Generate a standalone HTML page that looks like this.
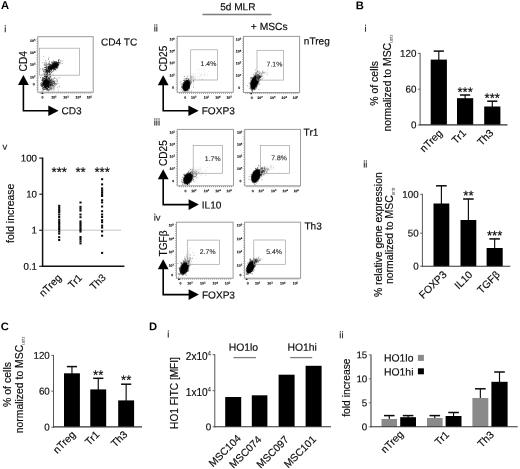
<!DOCTYPE html>
<html><head><meta charset="utf-8"><title>Figure</title>
<style>
html,body{margin:0;padding:0;background:#fff;}
svg{display:block;will-change:transform;font-family:"Liberation Sans",sans-serif;}
</style></head><body>
<svg width="520" height="469" viewBox="0 0 520 469">
<defs><filter id="bl" x="-30%" y="-30%" width="160%" height="160%"><feGaussianBlur stdDeviation="0.45"/></filter></defs>
<rect width="520" height="469" fill="#fff"/>
<text x="1.00" y="9.10" transform="rotate(0.03 1.00 9.10)" font-size="11.2" text-anchor="start" font-weight="bold" fill="#000">A</text>
<text x="355.80" y="9.20" transform="rotate(0.03 355.80 9.20)" font-size="11.2" text-anchor="start" font-weight="bold" fill="#000">B</text>
<text x="0.70" y="330.20" transform="rotate(0.03 0.70 330.20)" font-size="11.2" text-anchor="start" font-weight="bold" fill="#000">C</text>
<text x="149.00" y="330.20" transform="rotate(0.03 149.00 330.20)" font-size="11.2" text-anchor="start" font-weight="bold" fill="#000">D</text>
<text x="4.30" y="32.20" transform="rotate(0.03 4.30 32.20)" font-size="9.5" text-anchor="start" fill="#222" stroke="#222" stroke-width="0.16">i</text>
<text x="153.70" y="31.50" transform="rotate(0.03 153.70 31.50)" font-size="9.5" text-anchor="start" fill="#222" stroke="#222" stroke-width="0.16">ii</text>
<text x="153.70" y="125.50" transform="rotate(0.03 153.70 125.50)" font-size="9.5" text-anchor="start" fill="#222" stroke="#222" stroke-width="0.16">iii</text>
<text x="153.70" y="220.70" transform="rotate(0.03 153.70 220.70)" font-size="9.5" text-anchor="start" fill="#222" stroke="#222" stroke-width="0.16">iv</text>
<text x="2.50" y="149.80" transform="rotate(0.03 2.50 149.80)" font-size="9.5" text-anchor="start" fill="#222" stroke="#222" stroke-width="0.16">v</text>
<text x="364.50" y="31.80" transform="rotate(0.03 364.50 31.80)" font-size="9.5" text-anchor="start" fill="#222" stroke="#222" stroke-width="0.16">i</text>
<text x="363.20" y="167.60" transform="rotate(0.03 363.20 167.60)" font-size="9.5" text-anchor="start" fill="#222" stroke="#222" stroke-width="0.16">ii</text>
<text x="167.20" y="337.40" transform="rotate(0.03 167.20 337.40)" font-size="9.5" text-anchor="start" fill="#222" stroke="#222" stroke-width="0.16">i</text>
<text x="339.30" y="338.20" transform="rotate(0.03 339.30 338.20)" font-size="9.5" text-anchor="start" fill="#222" stroke="#222" stroke-width="0.16">ii</text>
<path d="M44.9 82.1h0.9M45.0 84.5h0.9M43.6 84.2h0.9M47.5 82.3h0.9M47.4 82.9h0.9M46.2 83.0h0.9M42.2 81.0h0.9M46.4 82.1h0.9M42.2 88.8h0.9M43.7 85.0h0.9M46.0 83.7h0.9M46.4 85.5h0.9M46.0 82.4h0.9M44.1 78.4h0.9M46.5 80.0h0.9M44.2 85.8h0.9M44.7 83.9h0.9M46.6 82.9h0.9M44.6 86.5h0.9M44.4 79.9h0.9M43.9 82.9h0.9M46.2 88.1h0.9M45.5 79.7h0.9M41.6 84.6h0.9M45.2 86.1h0.9M46.3 83.8h0.9M42.6 81.1h0.9M46.7 80.8h0.9M48.1 82.5h0.9M45.6 87.5h0.9M46.6 85.4h0.9M44.5 87.4h0.9M43.6 85.2h0.9M47.8 89.7h0.9M42.6 82.9h0.9M48.1 81.9h0.9M41.8 91.2h0.9M46.1 85.8h0.9M43.3 80.7h0.9M47.5 83.1h0.9M45.9 82.3h0.9M48.4 81.7h0.9M46.4 82.0h0.9M42.4 79.8h0.9M47.2 82.0h0.9M41.6 85.5h0.9M47.0 89.0h0.9M45.1 80.5h0.9M42.9 78.8h0.9M46.4 84.1h0.9M46.0 81.7h0.9M45.6 80.2h0.9M44.1 84.8h0.9M47.4 83.5h0.9M43.7 80.8h0.9M48.2 84.9h0.9M42.8 84.0h0.9M45.1 84.5h0.9M48.1 86.7h0.9M47.8 87.4h0.9M43.9 81.7h0.9M47.5 81.0h0.9M46.1 83.2h0.9M45.7 81.9h0.9M45.1 82.8h0.9M46.5 83.6h0.9M46.9 81.9h0.9M49.2 82.6h0.9M44.6 84.7h0.9M45.4 80.8h0.9M44.8 82.4h0.9M43.3 82.9h0.9M46.2 82.9h0.9M44.6 81.6h0.9M45.9 85.2h0.9M50.0 82.5h0.9M44.3 83.9h0.9M45.0 83.8h0.9M40.2 85.1h0.9M47.3 87.1h0.9M45.3 80.7h0.9M47.0 79.1h0.9M42.2 84.7h0.9M44.8 81.7h0.9M47.5 87.9h0.9M46.7 88.1h0.9M45.7 80.0h0.9M45.1 83.0h0.9M46.9 83.2h0.9M45.2 79.0h0.9M47.4 84.5h0.9M50.6 87.0h0.9M47.1 84.4h0.9M45.7 81.5h0.9M45.8 81.7h0.9M42.5 88.1h0.9M46.6 86.5h0.9M43.4 88.0h0.9M47.8 81.4h0.9M48.2 86.4h0.9M45.4 87.0h0.9M46.9 78.8h0.9M43.7 78.9h0.9M47.3 84.1h0.9M41.7 79.4h0.9M45.2 85.4h0.9M46.2 82.4h0.9M48.2 86.7h0.9M47.6 79.1h0.9M48.2 84.1h0.9M44.0 80.5h0.9M45.6 83.2h0.9M48.1 84.4h0.9M41.0 84.8h0.9M41.9 81.1h0.9M46.0 85.4h0.9M45.4 81.1h0.9M45.5 79.6h0.9M45.3 80.5h0.9M48.2 78.8h0.9M44.1 81.0h0.9M41.8 86.9h0.9M41.7 80.4h0.9M43.1 83.6h0.9M45.0 83.7h0.9M44.3 82.9h0.9M48.8 83.5h0.9M46.4 80.6h0.9M45.0 87.4h0.9M44.3 80.4h0.9M42.3 85.4h0.9M47.3 81.2h0.9M45.4 81.2h0.9M45.7 87.1h0.9M42.4 85.5h0.9M47.2 85.3h0.9M43.7 85.9h0.9M42.5 84.0h0.9M43.2 82.5h0.9M40.9 82.6h0.9M44.2 89.4h0.9M46.8 84.4h0.9M41.2 86.2h0.9M46.0 85.0h0.9M46.9 81.4h0.9M46.7 82.6h0.9M47.9 81.6h0.9M46.3 89.9h0.9M47.1 79.7h0.9M44.8 85.0h0.9M49.1 88.9h0.9M46.3 76.3h0.9M43.6 81.5h0.9M49.0 84.0h0.9M46.5 80.9h0.9M43.7 83.9h0.9M46.0 81.1h0.9M45.3 84.2h0.9M43.5 84.7h0.9M47.1 83.3h0.9M43.8 86.1h0.9M50.5 80.2h0.9M46.6 82.2h0.9M48.6 82.3h0.9M45.3 82.0h0.9M41.7 80.5h0.9M46.0 85.7h0.9M47.9 78.2h0.9M42.7 85.6h0.9M46.0 83.0h0.9M44.6 86.5h0.9M49.4 80.5h0.9M43.1 87.6h0.9M48.6 80.6h0.9M48.9 81.2h0.9M43.7 82.8h0.9M41.3 85.8h0.9M45.3 82.0h0.9M44.0 84.0h0.9M46.3 82.5h0.9M46.6 83.0h0.9M44.8 81.2h0.9M45.5 86.1h0.9M44.2 83.6h0.9M45.2 83.1h0.9M45.4 83.1h0.9M45.1 87.4h0.9M46.2 80.4h0.9M46.2 84.2h0.9M46.2 86.5h0.9M41.8 83.4h0.9M43.6 81.4h0.9M43.4 78.9h0.9M44.7 87.7h0.9M43.9 82.0h0.9M46.3 83.1h0.9M48.2 81.5h0.9M45.4 81.8h0.9M48.5 80.7h0.9M47.3 86.8h0.9M45.1 81.4h0.9M44.8 80.4h0.9M46.5 80.9h0.9M45.0 76.0h0.9M47.8 84.2h0.9M45.6 75.8h0.9M44.7 81.0h0.9M47.3 83.6h0.9M43.2 83.0h0.9M46.1 80.2h0.9M46.9 83.5h0.9M47.0 82.0h0.9M45.8 83.4h0.9M44.9 81.5h0.9M43.4 85.5h0.9M45.4 88.0h0.9M44.6 89.6h0.9M44.1 81.9h0.9M46.5 83.8h0.9M45.0 87.9h0.9M48.9 82.1h0.9M47.5 86.2h0.9M45.0 89.1h0.9M46.9 80.8h0.9M41.8 83.8h0.9M46.6 88.9h0.9M41.9 86.8h0.9M44.2 87.8h0.9M45.5 82.9h0.9M46.6 81.5h0.9M48.3 80.1h0.9M42.9 85.1h0.9M43.4 86.8h0.9M45.2 83.6h0.9M46.3 88.4h0.9M43.0 83.7h0.9M45.0 84.5h0.9M45.3 85.9h0.9M46.7 82.5h0.9M45.2 85.6h0.9M43.5 83.5h0.9M42.5 83.0h0.9M45.7 87.7h0.9M44.9 84.5h0.9M46.3 81.8h0.9M45.3 86.2h0.9M45.1 83.8h0.9M46.8 82.7h0.9M44.0 87.7h0.9M44.7 85.8h0.9M43.3 83.9h0.9M44.5 83.3h0.9M46.4 84.8h0.9M49.8 84.6h0.9M47.5 83.2h0.9M47.5 90.7h0.9M44.0 82.9h0.9M46.5 76.6h0.9M46.0 79.8h0.9M46.9 80.8h0.9M46.4 84.1h0.9M46.4 86.8h0.9M47.6 86.7h0.9M45.9 77.2h0.9M45.0 83.5h0.9M47.6 83.5h0.9M43.9 82.8h0.9M46.5 81.5h0.9M43.9 78.3h0.9M48.6 83.5h0.9M45.9 84.9h0.9M48.1 85.7h0.9M46.7 85.0h0.9M44.1 81.4h0.9M47.9 83.6h0.9M44.1 81.2h0.9M45.3 82.7h0.9M48.3 80.2h0.9M44.4 76.7h0.9M45.4 81.2h0.9M44.2 83.7h0.9M42.1 78.2h0.9M48.0 87.2h0.9M42.5 88.5h0.9M47.6 85.0h0.9M45.3 84.5h0.9M45.2 86.9h0.9M45.4 87.9h0.9M45.3 82.7h0.9M46.3 84.3h0.9M43.7 83.1h0.9M44.5 78.9h0.9M46.9 83.9h0.9M44.5 85.7h0.9M43.6 84.7h0.9M46.0 82.1h0.9M46.5 77.3h0.9M44.1 83.6h0.9M50.7 89.2h0.9M44.4 83.1h0.9M45.7 82.4h0.9M44.9 82.5h0.9M45.5 81.3h0.9M41.8 86.3h0.9M45.4 86.7h0.9M43.4 81.7h0.9M44.2 81.7h0.9M46.8 82.7h0.9M46.4 83.9h0.9M42.7 83.7h0.9M46.3 85.2h0.9M45.2 81.4h0.9M43.7 81.7h0.9M48.9 85.3h0.9M45.7 84.1h0.9M48.3 82.7h0.9M47.1 85.7h0.9M45.4 83.6h0.9M42.0 79.3h0.9M47.1 88.8h0.9M46.8 84.0h0.9M46.3 82.5h0.9M42.6 84.2h0.9M48.2 85.3h0.9M43.5 87.7h0.9M43.1 82.6h0.9M48.6 82.3h0.9M45.9 76.9h0.9M44.4 85.6h0.9M46.4 82.0h0.9M43.5 87.1h0.9M46.0 82.9h0.9M42.9 84.2h0.9M44.4 82.2h0.9M45.2 83.9h0.9M44.7 80.4h0.9M48.0 84.7h0.9M47.0 85.9h0.9M45.5 81.4h0.9M48.3 84.7h0.9M45.3 83.0h0.9M42.6 83.6h0.9M44.1 82.5h0.9M43.3 89.5h0.9M45.5 82.8h0.9M44.4 80.9h0.9M44.9 85.4h0.9M46.3 88.3h0.9M44.1 83.7h0.9M47.0 84.1h0.9M46.0 85.6h0.9M46.0 78.6h0.9M44.1 76.5h0.9M44.2 83.5h0.9M45.7 80.5h0.9M43.0 89.9h0.9M46.6 81.2h0.9M46.6 75.7h0.9M45.8 82.8h0.9M47.2 82.5h0.9M48.6 87.3h0.9M46.9 84.7h0.9M47.2 77.1h0.9M45.4 84.4h0.9M44.5 86.1h0.9M44.2 81.7h0.9M45.5 83.4h0.9M45.1 80.9h0.9M46.3 84.0h0.9M46.7 84.1h0.9M43.2 79.2h0.9M46.3 86.5h0.9M47.4 82.6h0.9M42.4 78.8h0.9" stroke="#000" stroke-opacity="0.6" stroke-width="0.9" fill="none"/>
<path d="M50.8 80.9h0.8M50.3 84.3h0.8M43.6 80.7h0.8M49.6 84.7h0.8M50.8 83.6h0.8M52.1 85.0h0.8M49.4 90.6h0.8M47.9 81.6h0.8M54.6 85.0h0.8M49.0 78.7h0.8M48.3 81.5h0.8M55.9 83.7h0.8M54.2 86.1h0.8M50.3 84.0h0.8M49.9 80.2h0.8M58.6 85.9h0.8M47.3 82.2h0.8M45.5 82.2h0.8M51.7 84.7h0.8M51.5 88.8h0.8M52.4 88.7h0.8M46.9 85.6h0.8M48.0 81.1h0.8M49.8 85.1h0.8M51.6 78.7h0.8M49.5 82.6h0.8M54.2 82.9h0.8M44.6 75.8h0.8M57.9 90.2h0.8M49.4 82.5h0.8M53.2 81.7h0.8M48.5 87.2h0.8M49.9 80.5h0.8M45.4 87.1h0.8M49.4 90.0h0.8M48.5 85.2h0.8M51.2 86.0h0.8M46.1 85.1h0.8M49.3 85.9h0.8M49.5 81.4h0.8M54.0 78.3h0.8M46.5 85.1h0.8M40.1 77.7h0.8M46.7 83.9h0.8M51.5 88.1h0.8M51.3 83.9h0.8M42.6 82.9h0.8M54.0 89.8h0.8M52.6 83.1h0.8M51.3 82.4h0.8M54.5 84.5h0.8M52.8 85.1h0.8M52.3 86.4h0.8M49.1 78.3h0.8M51.2 84.3h0.8M45.1 86.3h0.8M50.2 80.8h0.8M51.1 82.1h0.8M49.3 79.5h0.8M48.0 85.6h0.8M52.9 83.6h0.8M48.4 85.6h0.8M48.5 81.8h0.8M50.8 87.7h0.8M51.1 83.2h0.8M45.7 81.3h0.8M48.4 84.9h0.8M52.5 79.6h0.8M46.9 82.4h0.8M46.2 76.4h0.8M47.6 80.0h0.8M47.0 81.2h0.8M47.8 82.2h0.8M49.1 85.9h0.8M57.7 83.5h0.8M43.3 81.1h0.8M43.0 80.1h0.8M47.3 83.3h0.8M54.3 83.4h0.8M44.2 89.2h0.8M54.0 81.4h0.8M46.4 81.0h0.8M51.4 81.7h0.8M40.9 84.8h0.8M52.9 81.5h0.8M50.1 82.2h0.8M59.2 86.9h0.8M48.2 83.7h0.8M52.9 85.2h0.8M53.9 86.3h0.8M50.5 85.5h0.8M50.1 86.0h0.8M43.4 80.3h0.8M50.7 85.6h0.8M50.3 80.6h0.8M45.8 84.2h0.8M51.5 82.1h0.8M48.2 90.5h0.8M54.2 82.7h0.8M49.5 84.7h0.8M50.5 85.2h0.8M45.6 86.2h0.8M47.2 85.8h0.8M45.1 81.8h0.8M44.5 81.7h0.8M45.6 82.7h0.8M54.7 83.1h0.8M46.7 83.6h0.8M50.1 89.3h0.8M47.2 83.3h0.8M47.7 83.5h0.8M52.3 81.3h0.8M52.9 81.9h0.8M48.4 83.9h0.8M48.5 84.8h0.8M48.8 89.3h0.8M48.2 83.9h0.8M45.8 83.9h0.8M51.5 84.3h0.8M48.7 89.6h0.8M53.2 75.3h0.8M40.0 83.4h0.8M51.5 84.8h0.8M51.6 91.0h0.8M52.7 82.6h0.8M49.6 85.7h0.8M51.9 85.4h0.8M50.3 85.4h0.8M41.0 83.9h0.8M50.3 81.4h0.8M46.2 83.9h0.8M51.8 83.3h0.8M54.2 77.4h0.8M46.0 89.9h0.8M52.8 78.9h0.8M53.0 81.2h0.8M47.1 86.1h0.8M52.9 86.7h0.8M42.6 87.0h0.8M59.0 77.6h0.8M46.9 86.1h0.8M50.4 86.2h0.8M54.5 84.1h0.8M45.4 79.6h0.8M47.3 83.1h0.8M49.5 84.8h0.8M50.7 86.0h0.8M42.5 90.9h0.8M44.7 86.2h0.8M49.4 83.6h0.8M51.6 83.4h0.8M46.5 86.1h0.8M41.4 84.3h0.8M51.3 82.1h0.8M49.0 84.4h0.8M53.1 83.8h0.8M52.3 81.9h0.8M50.3 79.6h0.8M47.3 84.9h0.8M46.4 86.4h0.8M55.4 78.2h0.8M49.6 82.0h0.8M54.0 81.2h0.8M54.1 87.8h0.8M47.1 82.4h0.8M55.0 83.5h0.8M46.2 84.9h0.8M47.0 86.5h0.8M55.2 85.8h0.8M49.6 76.9h0.8M54.0 82.7h0.8M47.2 82.5h0.8M55.7 81.8h0.8M54.3 83.5h0.8M51.5 84.4h0.8M51.1 79.6h0.8M44.1 84.0h0.8M50.4 85.6h0.8M48.3 81.3h0.8M57.1 81.8h0.8M50.7 88.8h0.8M56.8 83.6h0.8M49.4 87.4h0.8M49.3 87.3h0.8M49.8 82.3h0.8M49.6 82.9h0.8M46.3 79.2h0.8M47.0 89.6h0.8M48.8 86.2h0.8M45.7 84.9h0.8M50.6 87.6h0.8M49.0 79.2h0.8M52.1 84.3h0.8M50.0 84.2h0.8M49.3 81.5h0.8M49.4 86.6h0.8M52.0 85.8h0.8M50.1 76.8h0.8M45.5 87.4h0.8M42.4 82.6h0.8M47.1 89.8h0.8M43.9 81.8h0.8M46.6 85.0h0.8M50.8 79.5h0.8M56.9 80.5h0.8M50.0 83.2h0.8M56.3 79.2h0.8M48.3 82.3h0.8M50.6 83.6h0.8M47.6 88.0h0.8M47.5 88.7h0.8M54.2 82.1h0.8M44.9 79.3h0.8M52.9 89.9h0.8M56.5 81.2h0.8M57.3 87.7h0.8M51.5 82.4h0.8M50.3 83.3h0.8M53.5 88.6h0.8M44.8 88.3h0.8M47.4 85.7h0.8M50.9 82.9h0.8M49.6 86.0h0.8M47.8 80.8h0.8M52.4 83.5h0.8M48.3 78.8h0.8M47.2 81.7h0.8M53.9 84.6h0.8M52.6 87.4h0.8M53.3 83.2h0.8M43.5 81.7h0.8M46.1 79.7h0.8M46.9 84.3h0.8M50.6 84.9h0.8M50.5 85.6h0.8M52.1 83.8h0.8M53.9 83.7h0.8M42.7 83.5h0.8M51.3 80.4h0.8M45.4 78.8h0.8M48.9 76.1h0.8M48.9 81.6h0.8M48.1 87.4h0.8M53.7 80.9h0.8M55.3 81.1h0.8M47.3 89.1h0.8M47.0 86.0h0.8M46.4 81.9h0.8M50.7 84.7h0.8M50.2 84.3h0.8M50.3 81.4h0.8M53.1 86.0h0.8M43.8 79.2h0.8M49.9 80.3h0.8M43.3 84.9h0.8M49.6 88.4h0.8M47.5 81.5h0.8M53.6 78.7h0.8M46.2 88.3h0.8M51.5 80.8h0.8M50.2 88.0h0.8M52.5 81.3h0.8M51.6 85.4h0.8M50.7 81.3h0.8M47.4 89.7h0.8M50.7 82.3h0.8M49.6 81.0h0.8M47.3 84.1h0.8M48.3 82.0h0.8M55.6 84.6h0.8M57.3 78.9h0.8M52.5 81.9h0.8M56.2 84.4h0.8M49.1 87.2h0.8M51.3 79.5h0.8M51.5 82.4h0.8M48.7 83.3h0.8M44.1 80.4h0.8M47.9 87.3h0.8M46.6 86.4h0.8M52.8 80.4h0.8M44.3 80.8h0.8M52.9 85.7h0.8M43.9 86.2h0.8M47.1 82.7h0.8M48.1 90.3h0.8M50.4 88.7h0.8M52.9 87.7h0.8M46.9 86.5h0.8M47.4 79.6h0.8M52.7 81.9h0.8M50.7 88.8h0.8M47.5 85.6h0.8M45.8 82.2h0.8" stroke="#000" stroke-opacity="0.45" stroke-width="0.8" fill="none"/>
<path d="M49.6 69.6h0.9M48.7 72.9h0.9M53.9 63.3h0.9M52.6 68.8h0.9M43.3 70.9h0.9M55.9 64.5h0.9M55.0 62.5h0.9M55.6 66.2h0.9M55.4 63.7h0.9M47.1 70.2h0.9M47.4 69.4h0.9M53.9 68.3h0.9M45.4 67.5h0.9M53.2 63.4h0.9M47.8 66.9h0.9M58.6 59.6h0.9M51.3 66.8h0.9M51.5 65.2h0.9M55.3 65.2h0.9M47.7 67.6h0.9M50.5 66.4h0.9M52.8 63.2h0.9M55.6 66.2h0.9M53.1 62.8h0.9M50.3 66.9h0.9M55.8 62.5h0.9M53.7 68.9h0.9M48.0 68.5h0.9M53.2 61.1h0.9M49.2 66.0h0.9M54.5 69.3h0.9M49.4 67.9h0.9M50.4 68.1h0.9M53.5 68.0h0.9M53.5 67.6h0.9M50.3 66.7h0.9M50.2 67.3h0.9M57.1 64.4h0.9M51.5 65.7h0.9M50.8 65.3h0.9M47.9 67.7h0.9M50.4 69.5h0.9M57.7 66.0h0.9M57.6 62.9h0.9M56.6 66.8h0.9M55.8 62.1h0.9M51.6 67.4h0.9M59.9 62.8h0.9M50.6 69.0h0.9M53.4 65.6h0.9M52.6 63.1h0.9M51.0 66.5h0.9M56.7 66.8h0.9M55.3 61.6h0.9M47.7 71.4h0.9M48.7 72.5h0.9M53.4 70.2h0.9M53.6 63.2h0.9M46.8 70.2h0.9M45.9 68.4h0.9M49.6 68.7h0.9M52.2 65.8h0.9M50.9 67.5h0.9M50.3 67.6h0.9M48.2 68.7h0.9M45.8 71.0h0.9M58.1 63.8h0.9M48.0 68.4h0.9M48.9 72.0h0.9M49.6 66.6h0.9M53.2 66.6h0.9M49.0 70.7h0.9M56.3 64.4h0.9M49.0 72.9h0.9M47.6 64.0h0.9M48.3 69.0h0.9M52.7 67.0h0.9M51.1 70.3h0.9M48.6 65.1h0.9M49.6 66.4h0.9M46.6 70.2h0.9M52.8 64.4h0.9M48.4 67.5h0.9M53.2 67.9h0.9M53.5 68.1h0.9M49.5 68.3h0.9M43.3 71.5h0.9M48.8 71.6h0.9M50.6 66.1h0.9M50.7 65.0h0.9M48.3 71.5h0.9M57.0 63.8h0.9M55.0 67.2h0.9M54.6 65.2h0.9M54.1 65.9h0.9M55.9 66.5h0.9M48.9 71.6h0.9M55.7 66.7h0.9M48.7 70.6h0.9M50.6 70.3h0.9M51.1 68.8h0.9M50.2 69.9h0.9M52.1 67.9h0.9M52.4 66.3h0.9M53.1 71.0h0.9M50.3 69.5h0.9M54.5 69.1h0.9M49.7 68.7h0.9M50.9 65.5h0.9M50.6 65.7h0.9M47.3 73.1h0.9M55.9 64.2h0.9M53.6 66.0h0.9M53.5 68.8h0.9M55.0 66.6h0.9M55.2 65.3h0.9M45.7 72.8h0.9M55.6 65.5h0.9M50.7 67.1h0.9M50.6 68.8h0.9M52.3 66.5h0.9M56.9 64.5h0.9M58.0 60.3h0.9M57.5 62.1h0.9M52.4 66.5h0.9M51.5 68.7h0.9M51.8 68.4h0.9M57.2 63.3h0.9M50.6 71.7h0.9M51.8 67.9h0.9M48.5 71.1h0.9M44.8 69.3h0.9M51.8 61.7h0.9M51.9 67.4h0.9M56.6 64.5h0.9M52.5 67.5h0.9M50.1 64.8h0.9M55.2 61.9h0.9M50.9 67.5h0.9M49.2 66.4h0.9M47.5 68.0h0.9M55.5 62.4h0.9M49.0 66.2h0.9M49.7 69.7h0.9M47.8 66.7h0.9M57.3 65.7h0.9M49.6 68.9h0.9M60.0 61.0h0.9M50.3 71.6h0.9M49.8 65.6h0.9M58.0 64.6h0.9M49.8 69.1h0.9M46.0 68.1h0.9M48.5 66.5h0.9M46.5 72.3h0.9M52.9 68.1h0.9M54.5 65.8h0.9M48.2 67.5h0.9M54.7 69.7h0.9M57.8 63.1h0.9M54.4 69.7h0.9M49.7 68.8h0.9M55.4 68.4h0.9M49.2 72.6h0.9M51.2 66.7h0.9M46.6 70.9h0.9M53.6 62.9h0.9M54.1 66.6h0.9M48.2 70.8h0.9M49.9 67.7h0.9M51.8 63.6h0.9M52.9 68.8h0.9M56.9 62.6h0.9M52.3 68.3h0.9M46.0 72.0h0.9M54.9 67.2h0.9M47.8 68.7h0.9M52.8 65.4h0.9M54.1 63.0h0.9M49.3 66.3h0.9M48.8 67.1h0.9M52.6 66.2h0.9M55.1 65.5h0.9M55.6 63.4h0.9M52.4 68.0h0.9M49.6 69.3h0.9M51.4 67.4h0.9M61.5 61.0h0.9M54.5 67.6h0.9M49.7 68.8h0.9M52.6 68.9h0.9M57.2 65.7h0.9M55.5 70.2h0.9M52.0 66.4h0.9M52.6 65.4h0.9M52.9 66.2h0.9M45.9 71.4h0.9M44.5 69.3h0.9M53.0 66.9h0.9M49.4 69.5h0.9M57.9 60.5h0.9M51.8 64.4h0.9M46.9 73.5h0.9M50.5 69.6h0.9M50.2 67.5h0.9M61.7 63.7h0.9M52.2 66.3h0.9M51.9 65.1h0.9M57.7 66.8h0.9M52.5 67.3h0.9M53.1 69.6h0.9M46.4 74.6h0.9M53.7 65.8h0.9M52.2 71.8h0.9M50.8 69.2h0.9M47.5 71.1h0.9M54.2 64.8h0.9M51.9 66.0h0.9M50.1 67.8h0.9M52.1 65.8h0.9M51.8 67.4h0.9M51.6 68.6h0.9M59.1 62.4h0.9M53.4 61.6h0.9M56.5 68.0h0.9M54.2 64.2h0.9M58.0 61.3h0.9M54.5 68.2h0.9M49.2 67.8h0.9M53.6 68.3h0.9M50.8 68.4h0.9M52.2 66.2h0.9M51.1 70.0h0.9M56.0 61.7h0.9M51.7 65.0h0.9M53.4 64.9h0.9M53.5 67.8h0.9M53.8 64.0h0.9M49.1 64.3h0.9M58.7 59.9h0.9M58.4 62.4h0.9M50.9 68.8h0.9M49.4 68.0h0.9M51.9 65.7h0.9M45.5 65.3h0.9M59.3 63.5h0.9M54.2 65.0h0.9M52.9 67.0h0.9M51.6 68.9h0.9M52.6 66.8h0.9M53.0 68.3h0.9M52.1 66.8h0.9M53.9 68.3h0.9M53.3 64.3h0.9M53.9 66.8h0.9M50.4 68.3h0.9M54.3 62.6h0.9M51.5 68.6h0.9M53.2 66.0h0.9M49.1 70.0h0.9M51.7 65.8h0.9M48.2 71.0h0.9M53.6 68.8h0.9M52.3 66.1h0.9M51.6 69.3h0.9M51.8 67.8h0.9M53.1 68.2h0.9M55.5 68.8h0.9M51.4 67.3h0.9M55.1 66.8h0.9M53.7 67.3h0.9M54.4 62.2h0.9M50.7 66.7h0.9M49.0 66.4h0.9M55.9 65.0h0.9M48.4 67.9h0.9M55.7 62.9h0.9M54.6 69.5h0.9M49.8 65.1h0.9M48.1 66.6h0.9M58.0 62.5h0.9M55.6 65.9h0.9M48.1 69.1h0.9M51.4 67.4h0.9M54.2 66.2h0.9M52.6 65.8h0.9M52.0 63.2h0.9M53.4 66.1h0.9M51.3 68.6h0.9M56.3 64.6h0.9M48.5 69.9h0.9M51.6 68.1h0.9M55.5 67.7h0.9M53.6 65.9h0.9M48.2 68.7h0.9M51.7 66.1h0.9M50.6 67.1h0.9M46.7 71.9h0.9M54.5 63.6h0.9M52.0 68.3h0.9" stroke="#000" stroke-opacity="0.55" stroke-width="0.9" fill="none"/>
<path d="M56.7 67.4h0.9M53.7 64.8h0.9M56.0 66.2h0.9M52.0 64.3h0.9M55.2 66.3h0.9M55.1 63.9h0.9M50.9 65.2h0.9M56.2 67.6h0.9M56.2 67.2h0.9M56.8 64.0h0.9M58.6 64.7h0.9M55.0 63.8h0.9M54.0 66.6h0.9M54.4 65.5h0.9M53.3 65.2h0.9M55.9 64.8h0.9M57.7 64.6h0.9M57.1 65.2h0.9M56.2 67.4h0.9M55.3 65.3h0.9M54.2 66.3h0.9M54.4 66.4h0.9M51.5 67.3h0.9M54.1 66.3h0.9M53.3 66.0h0.9M56.3 65.1h0.9M54.2 63.6h0.9M56.6 63.3h0.9M56.8 65.0h0.9M54.8 63.7h0.9M54.1 65.7h0.9M55.6 64.5h0.9M54.6 64.0h0.9M54.7 64.3h0.9M56.7 63.7h0.9M56.2 66.4h0.9M52.9 66.8h0.9M55.8 62.9h0.9M53.0 65.5h0.9M53.6 66.7h0.9M54.6 64.4h0.9M55.3 63.5h0.9M53.4 64.6h0.9M56.5 64.5h0.9M55.8 65.7h0.9M53.3 66.4h0.9M54.0 61.6h0.9M54.2 63.2h0.9M55.3 64.6h0.9M56.2 65.8h0.9M56.5 64.1h0.9M52.6 65.3h0.9M55.9 64.2h0.9M57.5 64.8h0.9M55.8 63.9h0.9M53.6 64.1h0.9M52.7 67.9h0.9M55.8 66.4h0.9M54.8 67.5h0.9M55.1 66.7h0.9M55.5 67.1h0.9M55.7 65.3h0.9M55.1 65.3h0.9M55.2 66.9h0.9M50.9 66.7h0.9M53.5 66.4h0.9M55.7 67.7h0.9M53.8 66.5h0.9M53.3 65.4h0.9M54.8 66.4h0.9M53.4 64.7h0.9M53.9 64.8h0.9M55.7 67.5h0.9M53.3 65.8h0.9M55.5 63.9h0.9M56.3 63.3h0.9M54.4 65.7h0.9M56.2 65.3h0.9M56.7 66.8h0.9M56.0 65.0h0.9M51.9 65.0h0.9M55.5 65.0h0.9M53.3 66.5h0.9M57.4 65.4h0.9M49.4 68.5h0.9M53.1 66.1h0.9M54.4 66.7h0.9M53.7 64.3h0.9M52.7 63.4h0.9M54.1 67.0h0.9M56.3 64.0h0.9M53.3 64.8h0.9M52.1 67.6h0.9M56.8 64.9h0.9M52.9 65.3h0.9M56.5 64.7h0.9M52.1 66.8h0.9M55.7 63.9h0.9M58.0 64.4h0.9M54.2 65.5h0.9M56.9 65.8h0.9M57.1 68.2h0.9M56.3 65.7h0.9M55.7 64.0h0.9M53.1 66.0h0.9M55.4 64.2h0.9M53.5 67.1h0.9M51.9 62.9h0.9M54.7 65.6h0.9M52.6 64.8h0.9M54.1 63.5h0.9M56.4 64.7h0.9M56.2 66.3h0.9M54.5 66.2h0.9M53.0 65.9h0.9M54.8 63.3h0.9M49.6 68.1h0.9M53.5 66.4h0.9M55.7 64.4h0.9M55.0 65.8h0.9M55.8 64.4h0.9M52.1 66.7h0.9M52.8 67.6h0.9M55.2 65.0h0.9M55.2 66.3h0.9M54.7 66.6h0.9M55.6 64.0h0.9M57.8 62.4h0.9M53.7 66.3h0.9M53.5 65.3h0.9M58.2 63.0h0.9M51.5 68.2h0.9M52.9 65.3h0.9M55.0 64.8h0.9M57.9 65.3h0.9M53.6 63.0h0.9M55.5 66.1h0.9M51.8 68.5h0.9M51.1 66.6h0.9M55.1 63.8h0.9M54.8 66.2h0.9M53.8 63.0h0.9M52.2 66.0h0.9M55.0 64.3h0.9M54.4 64.8h0.9M56.3 64.9h0.9M54.3 65.7h0.9M53.5 66.1h0.9M54.5 65.1h0.9M57.1 62.6h0.9" stroke="#000" stroke-opacity="0.6" stroke-width="0.9" fill="none"/>
<path d="M45.6 69.4h0.8M47.6 67.9h0.8M46.9 71.3h0.8M45.6 78.4h0.8M49.1 64.0h0.8M48.5 69.8h0.8M47.5 75.7h0.8M42.2 69.9h0.8M47.3 76.5h0.8M44.3 65.4h0.8M42.1 62.8h0.8M48.5 57.3h0.8M44.9 73.6h0.8M45.5 72.3h0.8M46.3 78.0h0.8M49.6 77.4h0.8M45.5 69.7h0.8M45.4 76.2h0.8M47.7 75.1h0.8M43.6 74.5h0.8M46.2 62.1h0.8M43.9 67.4h0.8M44.8 75.8h0.8M46.0 71.5h0.8M49.0 61.1h0.8M45.1 64.8h0.8M49.4 67.1h0.8M44.8 67.7h0.8M46.5 70.8h0.8M46.1 68.9h0.8M49.7 65.0h0.8M46.3 66.7h0.8M50.6 78.1h0.8M50.6 80.7h0.8M48.2 68.8h0.8M50.7 70.2h0.8M45.6 78.5h0.8M43.5 68.9h0.8M46.2 77.8h0.8M48.2 77.6h0.8M45.7 76.2h0.8M51.1 62.5h0.8M46.4 83.3h0.8M47.5 72.4h0.8M47.7 69.1h0.8M46.0 67.2h0.8M49.0 71.1h0.8M45.7 76.4h0.8M48.6 79.7h0.8M46.4 78.0h0.8M43.2 70.0h0.8M46.7 72.8h0.8M49.1 82.1h0.8M46.6 71.2h0.8M49.0 79.5h0.8M48.7 71.1h0.8M50.3 64.8h0.8M48.2 58.7h0.8M46.8 75.7h0.8M45.9 79.3h0.8M46.7 85.2h0.8M46.6 70.3h0.8M49.4 74.6h0.8M50.4 76.3h0.8M46.5 85.2h0.8M44.8 78.6h0.8M50.6 68.7h0.8M44.0 70.3h0.8M48.0 74.2h0.8M46.9 74.9h0.8M45.4 84.5h0.8M46.6 64.9h0.8M50.4 73.9h0.8M44.9 74.8h0.8M49.1 70.2h0.8M45.3 71.1h0.8M46.3 69.9h0.8M45.8 82.5h0.8M46.9 68.2h0.8M44.0 74.4h0.8M49.0 74.8h0.8M45.2 60.6h0.8M48.9 66.0h0.8M44.4 63.3h0.8M42.6 77.3h0.8M48.7 64.2h0.8M44.4 77.8h0.8M47.3 85.0h0.8M48.4 69.1h0.8M45.7 69.9h0.8M48.8 70.6h0.8M48.1 63.2h0.8M45.6 72.3h0.8M45.5 66.8h0.8M45.8 70.3h0.8M47.1 72.5h0.8M51.1 72.5h0.8M50.4 66.9h0.8M50.1 73.2h0.8M49.1 67.7h0.8M45.3 71.7h0.8M46.5 73.3h0.8M50.1 76.7h0.8M42.6 84.9h0.8M45.7 77.3h0.8M46.8 69.5h0.8M51.2 70.0h0.8M48.0 77.3h0.8M48.3 64.2h0.8M50.2 84.4h0.8M49.0 62.6h0.8M48.9 81.8h0.8M46.0 69.5h0.8M47.8 77.8h0.8M44.6 67.5h0.8M43.5 64.9h0.8M46.9 71.1h0.8M43.5 77.5h0.8M48.5 81.7h0.8M52.0 80.4h0.8M43.7 73.5h0.8M48.0 68.1h0.8M45.9 74.5h0.8M46.2 76.7h0.8M40.4 68.6h0.8M47.4 71.9h0.8M45.2 71.8h0.8M46.8 73.5h0.8M49.6 83.0h0.8M47.4 79.5h0.8M46.0 63.9h0.8M44.1 74.3h0.8M45.3 67.5h0.8M44.4 84.1h0.8M48.1 74.9h0.8M46.0 66.5h0.8M44.6 75.9h0.8M47.2 70.3h0.8M45.5 66.9h0.8M52.4 74.1h0.8M51.5 84.9h0.8M50.3 74.3h0.8M47.1 75.0h0.8M45.2 81.3h0.8M45.8 65.2h0.8M49.6 74.5h0.8M45.5 77.7h0.8M43.8 62.5h0.8M48.5 71.9h0.8M45.6 79.7h0.8M50.1 67.3h0.8M44.4 67.5h0.8M44.0 69.7h0.8M44.4 76.2h0.8M48.0 70.0h0.8M49.3 77.6h0.8M50.7 63.7h0.8M46.8 70.1h0.8M44.9 74.4h0.8M43.5 73.3h0.8M47.3 64.5h0.8M49.2 67.3h0.8M45.9 74.6h0.8M45.9 71.8h0.8M42.0 69.4h0.8M42.9 77.2h0.8M46.9 76.2h0.8M51.0 72.6h0.8M50.7 64.7h0.8M45.6 70.8h0.8M50.0 74.3h0.8M47.0 76.4h0.8M46.9 75.2h0.8M47.0 66.7h0.8M50.3 71.3h0.8M47.3 67.6h0.8M46.1 79.8h0.8M49.6 78.1h0.8M49.1 78.4h0.8M51.4 78.3h0.8M48.9 63.2h0.8M44.4 64.4h0.8M44.7 84.5h0.8M48.6 68.2h0.8M46.3 88.8h0.8M46.7 74.9h0.8M45.9 75.0h0.8M42.3 77.6h0.8M51.3 62.3h0.8M45.9 77.6h0.8M47.8 66.2h0.8M48.6 79.8h0.8M47.2 72.0h0.8M50.4 64.7h0.8M48.1 65.1h0.8M45.8 63.7h0.8M45.7 70.8h0.8M49.1 78.1h0.8M45.0 84.4h0.8M47.2 73.2h0.8M46.0 70.1h0.8M41.5 74.5h0.8M47.0 74.6h0.8M48.8 61.6h0.8M45.7 79.1h0.8M45.3 72.8h0.8M48.3 78.0h0.8M49.3 78.7h0.8M48.9 69.8h0.8M48.0 59.3h0.8M46.1 74.2h0.8M48.0 67.3h0.8M43.5 72.1h0.8M44.9 69.5h0.8M50.2 71.8h0.8M46.5 71.9h0.8M39.4 70.1h0.8M48.2 71.6h0.8M45.8 77.8h0.8M46.4 65.6h0.8M46.5 64.7h0.8M40.4 77.5h0.8M47.5 72.9h0.8M42.7 78.2h0.8M49.9 80.2h0.8M44.3 80.4h0.8M45.4 69.4h0.8M48.3 85.2h0.8M50.4 75.8h0.8M45.3 63.0h0.8M46.6 80.7h0.8M45.2 77.9h0.8M44.3 75.7h0.8M49.0 70.3h0.8M43.4 56.6h0.8M44.3 72.9h0.8M46.9 68.3h0.8M46.0 70.4h0.8M52.1 71.1h0.8M44.1 71.6h0.8M44.8 75.8h0.8M47.3 70.8h0.8M46.1 67.9h0.8M46.3 81.2h0.8M49.0 74.7h0.8M49.8 76.3h0.8M48.2 70.7h0.8M40.1 84.0h0.8M44.0 65.0h0.8M42.1 68.5h0.8M49.5 69.2h0.8M48.5 75.7h0.8M46.8 71.6h0.8M47.9 68.3h0.8M46.3 77.5h0.8M45.4 70.8h0.8M42.7 81.8h0.8M45.8 76.7h0.8M46.1 89.7h0.8M45.9 74.8h0.8" stroke="#000" stroke-opacity="0.45" stroke-width="0.8" fill="none"/>
<rect x="37.80" y="36.70" width="55.40" height="55.50" fill="none" stroke="#9a9a9a" stroke-width="1.0"/>
<rect x="39.40" y="48.20" width="40.20" height="27.00" fill="none" stroke="#a2a2a2" stroke-width="0.7"/>
<path d="M39.80 93.10H92.20" stroke="#555" stroke-width="0.9" stroke-dasharray="0.7 1.3" fill="none"/>
<path d="M36.90 38.70V91.20" stroke="#777" stroke-width="0.8" stroke-dasharray="0.7 1.6" fill="none"/>
<rect x="41.50" y="92.80" width="1.80" height="1.20" fill="#222"/>
<text x="42.56" y="98.60" transform="rotate(0.03 42.56 98.60)" font-size="3.5" font-weight="bold" text-anchor="middle" fill="#000" stroke="#000" stroke-width="0.12">0</text>
<text x="53.87" y="98.60" transform="rotate(0.03 53.87 98.60)" font-size="3.5" font-weight="bold" text-anchor="middle" fill="#000" stroke="#000" stroke-width="0.12">10<tspan font-size="2.6" dy="-1.2">2</tspan></text>
<text x="66.05" y="98.60" transform="rotate(0.03 66.05 98.60)" font-size="3.5" font-weight="bold" text-anchor="middle" fill="#000" stroke="#000" stroke-width="0.12">10<tspan font-size="2.6" dy="-1.2">3</tspan></text>
<text x="78.24" y="98.60" transform="rotate(0.03 78.24 98.60)" font-size="3.5" font-weight="bold" text-anchor="middle" fill="#000" stroke="#000" stroke-width="0.12">10<tspan font-size="2.6" dy="-1.2">4</tspan></text>
<text x="89.32" y="98.60" transform="rotate(0.03 89.32 98.60)" font-size="3.5" font-weight="bold" text-anchor="middle" fill="#000" stroke="#000" stroke-width="0.12">10<tspan font-size="2.6" dy="-1.2">5</tspan></text>
<text x="34.60" y="85.63" transform="rotate(0.03 34.60 85.63)" font-size="3.5" font-weight="bold" text-anchor="end" fill="#000" stroke="#000" stroke-width="0.12">0</text>
<text x="35.40" y="78.42" transform="rotate(0.03 35.40 78.42)" font-size="3.5" font-weight="bold" text-anchor="end" fill="#000" stroke="#000" stroke-width="0.12">10<tspan font-size="2.6" dy="-1.2">2</tspan></text>
<text x="35.40" y="65.65" transform="rotate(0.03 35.40 65.65)" font-size="3.5" font-weight="bold" text-anchor="end" fill="#000" stroke="#000" stroke-width="0.12">10<tspan font-size="2.6" dy="-1.2">3</tspan></text>
<text x="35.40" y="54.00" transform="rotate(0.03 35.40 54.00)" font-size="3.5" font-weight="bold" text-anchor="end" fill="#000" stroke="#000" stroke-width="0.12">10<tspan font-size="2.6" dy="-1.2">4</tspan></text>
<text x="35.40" y="41.90" transform="rotate(0.03 35.40 41.90)" font-size="3.5" font-weight="bold" text-anchor="end" fill="#000" stroke="#000" stroke-width="0.12">10<tspan font-size="2.6" dy="-1.2">5</tspan></text>
<path d="M23.40 84.10V110.80H49.60" stroke="#000" stroke-width="1.6" fill="none"/>
<path d="M23.40 75.10l-5.4 10h10.8z" fill="#000"/>
<path d="M58.60 110.80l-10.3 -5.3v10.6z" fill="#000"/>
<text x="61.50" y="114.20" transform="rotate(0.03 61.50 114.20)" font-size="10.1" text-anchor="start" fill="#0a0a0a" stroke="#0a0a0a" stroke-width="0.16">CD3</text>
<text transform="translate(27.00,71.40) rotate(-90)" font-size="10.1" text-anchor="start" fill="#0a0a0a" stroke="#0a0a0a" stroke-width="0.16">CD4</text>
<text x="101.00" y="45.60" transform="rotate(0.03 101.00 45.60)" font-size="10.1" text-anchor="start" fill="#0a0a0a" stroke="#0a0a0a" stroke-width="0.16">CD4 TC</text>
<text x="237.80" y="10.20" transform="rotate(0.03 237.80 10.20)" font-size="10.1" text-anchor="middle" fill="#0a0a0a" stroke="#0a0a0a" stroke-width="0.16">5d MLR</text>
<line x1="202.50" y1="14.50" x2="271.40" y2="14.50" stroke="#7c7c7c" stroke-width="1.3" stroke-linecap="butt"/>
<text x="250.80" y="30.00" transform="rotate(0.03 250.80 30.00)" font-size="10.3" text-anchor="start" fill="#0a0a0a" stroke="#0a0a0a" stroke-width="0.16">+ MSCs</text>
<path d="M187.9 91.1h0.8M185.5 84.4h0.8M187.3 81.1h0.8M188.5 87.7h0.8M187.6 85.9h0.8M184.4 81.6h0.8M184.8 89.1h0.8M185.3 88.9h0.8M188.4 83.1h0.8M189.3 82.6h0.8M184.8 82.9h0.8M184.8 87.9h0.8M185.8 85.7h0.8M188.8 86.1h0.8M187.0 85.3h0.8M183.4 90.7h0.8M185.7 84.6h0.8M186.9 83.7h0.8M186.3 87.0h0.8M187.1 88.3h0.8M183.2 88.3h0.8M183.0 89.0h0.8M184.5 88.3h0.8M186.1 88.3h0.8M186.5 88.3h0.8M184.4 85.8h0.8M180.8 89.7h0.8M186.4 85.2h0.8M182.9 86.7h0.8M186.5 88.6h0.8M187.9 84.9h0.8M186.2 87.0h0.8M187.4 84.6h0.8M188.7 82.7h0.8M184.8 87.1h0.8M188.2 85.7h0.8M187.0 83.4h0.8M186.5 84.7h0.8M186.5 87.9h0.8M188.9 84.6h0.8M184.8 88.7h0.8M187.0 88.7h0.8M184.0 80.3h0.8M189.1 80.6h0.8M189.2 82.0h0.8M182.5 83.8h0.8M189.0 82.5h0.8M181.8 83.9h0.8M189.2 85.5h0.8M186.5 82.9h0.8M186.0 82.1h0.8M186.4 83.2h0.8M186.4 90.3h0.8M184.0 76.5h0.8M186.8 81.0h0.8M188.7 78.6h0.8M187.4 86.9h0.8M185.8 82.9h0.8M181.4 87.6h0.8M188.0 80.3h0.8M184.1 88.9h0.8M182.0 91.2h0.8M187.4 78.2h0.8M183.6 82.5h0.8M187.2 86.7h0.8M191.1 91.2h0.8M186.0 85.0h0.8M191.0 77.1h0.8M191.3 82.4h0.8M188.4 79.9h0.8M187.3 83.8h0.8M185.8 87.2h0.8M183.5 80.7h0.8M186.8 85.4h0.8M186.6 79.4h0.8M186.0 86.6h0.8M184.5 86.6h0.8M185.2 85.5h0.8M193.2 80.5h0.8M184.3 80.3h0.8M188.1 81.9h0.8M187.8 82.0h0.8M187.7 80.1h0.8M188.5 79.9h0.8M185.1 86.2h0.8M184.6 83.4h0.8M188.1 86.1h0.8M187.5 76.3h0.8M189.0 87.7h0.8M186.0 83.6h0.8M186.1 84.4h0.8M188.8 83.1h0.8M183.7 84.6h0.8M186.0 85.3h0.8M184.9 90.8h0.8M183.4 88.3h0.8M188.8 88.0h0.8M184.6 84.7h0.8M180.8 84.2h0.8M184.5 84.4h0.8M185.1 85.2h0.8M186.4 85.5h0.8M186.1 81.0h0.8M185.0 84.5h0.8M186.6 83.8h0.8M188.4 89.3h0.8M186.8 85.8h0.8M185.5 88.8h0.8M184.4 89.9h0.8M183.7 78.7h0.8M190.0 83.5h0.8M187.9 87.9h0.8M186.5 80.7h0.8M186.1 88.9h0.8M185.7 89.2h0.8M183.1 88.1h0.8M185.3 88.8h0.8M184.2 89.7h0.8M186.7 80.7h0.8M185.7 78.5h0.8M182.6 86.7h0.8M183.6 87.5h0.8M186.4 83.6h0.8M188.7 86.0h0.8M183.4 87.7h0.8M186.9 87.5h0.8M188.2 79.0h0.8M183.0 86.2h0.8M188.5 90.7h0.8M186.7 86.1h0.8M183.0 83.0h0.8M186.7 86.9h0.8M187.2 82.9h0.8M187.9 82.7h0.8M187.1 89.0h0.8M185.3 85.7h0.8M180.0 82.0h0.8M185.3 89.5h0.8M182.1 87.0h0.8M186.3 87.5h0.8M185.3 89.0h0.8M184.5 86.8h0.8M184.8 84.2h0.8M185.9 85.3h0.8M187.1 80.9h0.8M187.5 84.1h0.8M185.8 88.4h0.8M185.4 83.8h0.8M186.7 86.6h0.8M186.9 81.8h0.8M187.0 89.7h0.8M185.7 85.1h0.8M184.1 85.6h0.8M185.8 88.6h0.8M183.4 84.5h0.8M187.0 88.1h0.8M183.9 83.9h0.8M187.5 85.9h0.8M189.8 84.6h0.8M183.8 83.3h0.8M185.8 84.7h0.8M186.3 88.8h0.8M183.5 87.7h0.8M189.3 87.2h0.8M189.2 83.2h0.8M183.7 86.1h0.8M187.5 87.9h0.8M181.4 87.0h0.8M183.7 85.5h0.8M181.9 88.4h0.8M185.7 85.3h0.8M185.0 90.2h0.8M186.7 91.1h0.8M187.4 83.3h0.8M190.0 80.6h0.8M187.0 84.3h0.8M186.3 89.9h0.8M189.5 82.1h0.8M185.6 89.7h0.8M189.5 82.0h0.8M183.6 84.8h0.8M190.4 83.4h0.8M187.1 86.5h0.8M184.8 82.9h0.8M193.1 81.4h0.8M185.9 83.2h0.8M185.5 83.6h0.8M188.1 87.9h0.8M183.8 87.2h0.8M188.1 83.7h0.8M189.0 88.6h0.8M187.3 87.0h0.8M186.4 84.4h0.8M184.0 87.5h0.8M183.6 86.2h0.8M184.3 88.3h0.8M186.7 87.5h0.8M188.8 86.3h0.8M188.1 83.6h0.8M183.9 87.6h0.8M184.3 87.8h0.8M185.6 80.0h0.8M185.3 81.0h0.8M187.2 89.3h0.8M181.0 86.2h0.8M181.8 85.7h0.8M188.5 83.1h0.8M185.7 86.7h0.8M186.8 86.3h0.8M185.0 87.5h0.8M188.8 86.2h0.8M187.0 88.9h0.8M184.6 91.0h0.8M185.8 83.6h0.8M186.9 86.8h0.8M187.6 86.0h0.8M187.0 84.3h0.8M183.3 84.7h0.8M186.0 78.4h0.8M185.7 87.7h0.8M189.5 82.0h0.8M190.4 81.6h0.8M185.7 83.5h0.8M184.4 88.0h0.8M185.0 87.0h0.8M187.9 86.2h0.8M186.9 86.8h0.8M185.7 85.3h0.8M183.8 83.6h0.8M186.7 81.2h0.8M188.3 82.3h0.8M185.9 89.3h0.8M185.7 87.4h0.8M186.8 86.8h0.8M193.0 87.1h0.8M188.8 85.7h0.8M185.7 82.9h0.8M186.2 89.5h0.8M187.1 85.7h0.8M181.6 87.5h0.8M183.9 89.3h0.8M187.3 84.0h0.8M185.6 78.9h0.8M187.1 87.1h0.8M186.7 85.7h0.8M183.1 80.6h0.8M185.8 86.7h0.8" stroke="#000" stroke-opacity="0.55" stroke-width="0.8" fill="none"/>
<path d="M188.4 79.4h0.7M190.1 76.7h0.7M192.3 75.7h0.7M189.7 80.2h0.7M188.7 82.1h0.7M185.0 85.0h0.7M187.2 84.0h0.7M193.5 78.6h0.7M193.5 77.1h0.7M192.7 77.2h0.7M188.2 79.9h0.7M189.1 82.8h0.7M193.5 73.9h0.7M187.2 78.1h0.7M192.4 81.9h0.7M190.8 79.7h0.7M191.1 81.4h0.7M186.3 82.8h0.7M192.5 77.8h0.7M191.9 77.3h0.7M187.1 82.5h0.7M191.0 78.0h0.7M190.5 79.5h0.7M190.4 75.6h0.7M183.7 84.2h0.7M197.2 76.8h0.7M184.7 83.3h0.7M185.9 84.8h0.7M190.6 76.4h0.7M191.3 78.7h0.7M192.9 79.0h0.7M187.5 82.5h0.7M191.0 81.2h0.7M188.1 82.9h0.7M185.7 85.7h0.7M189.7 82.0h0.7M190.1 77.4h0.7M190.9 80.6h0.7M186.6 85.4h0.7M191.1 82.6h0.7M191.2 83.1h0.7M190.4 81.0h0.7M192.9 80.5h0.7M188.9 80.9h0.7M190.2 76.7h0.7M189.3 82.7h0.7M189.1 80.3h0.7M190.7 78.9h0.7M186.0 76.8h0.7M195.3 78.4h0.7M186.5 82.4h0.7M191.2 86.0h0.7M190.0 84.7h0.7M191.3 76.9h0.7M193.0 83.3h0.7M194.0 76.7h0.7M189.0 80.3h0.7M194.4 79.6h0.7M190.0 82.4h0.7M193.3 84.7h0.7" stroke="#000" stroke-opacity="0.3" stroke-width="0.7" fill="none"/>
<path d="M205.2 76.4h0.7M202.3 79.2h0.7M191.6 79.3h0.7M201.8 79.3h0.7M200.5 76.8h0.7M204.2 74.8h0.7M199.8 75.7h0.7M207.4 74.0h0.7M196.9 70.3h0.7M197.4 73.9h0.7M192.7 76.7h0.7M183.9 79.5h0.7M193.3 81.5h0.7M188.8 75.1h0.7M199.5 79.7h0.7M207.5 75.0h0.7M194.9 75.9h0.7M190.4 82.6h0.7M192.7 73.8h0.7M202.5 79.0h0.7M204.0 73.9h0.7M199.9 75.0h0.7M199.4 78.2h0.7M191.8 79.6h0.7M194.9 74.8h0.7M190.0 73.4h0.7M193.3 78.8h0.7M201.1 73.6h0.7M195.0 79.7h0.7M191.2 82.3h0.7M203.6 70.9h0.7M207.8 71.4h0.7M198.9 73.2h0.7M202.5 75.2h0.7M199.0 69.1h0.7M187.2 83.0h0.7M191.4 75.4h0.7M203.9 75.0h0.7M200.9 75.0h0.7M198.7 77.1h0.7" stroke="#000" stroke-opacity="0.18" stroke-width="0.7" fill="none"/>
<ellipse cx="186.3" cy="85.7" rx="3.7" ry="5.9" transform="rotate(16 186.3 85.7)" fill="#050505" filter="url(#bl)"/>
<rect x="177.20" y="36.30" width="56.10" height="56.00" fill="none" stroke="#9a9a9a" stroke-width="1.0"/>
<rect x="190.70" y="49.80" width="26.70" height="30.20" fill="none" stroke="#a2a2a2" stroke-width="0.7"/>
<text x="200.60" y="66.00" transform="rotate(0.03 200.60 66.00)" font-size="6.9" text-anchor="start" fill="#1c1c1c" stroke="#1c1c1c" stroke-width="0.1">1.4%</text>
<path d="M179.20 93.20H232.30" stroke="#555" stroke-width="0.9" stroke-dasharray="0.7 1.3" fill="none"/>
<path d="M176.30 38.30V91.30" stroke="#777" stroke-width="0.8" stroke-dasharray="0.7 1.6" fill="none"/>
<text x="185.33" y="98.70" transform="rotate(0.03 185.33 98.70)" font-size="3.5" font-weight="bold" text-anchor="middle" fill="#000" stroke="#000" stroke-width="0.12">0</text>
<text x="193.75" y="98.70" transform="rotate(0.03 193.75 98.70)" font-size="3.5" font-weight="bold" text-anchor="middle" fill="#000" stroke="#000" stroke-width="0.12">10<tspan font-size="2.6" dy="-1.2">2</tspan></text>
<text x="206.37" y="98.70" transform="rotate(0.03 206.37 98.70)" font-size="3.5" font-weight="bold" text-anchor="middle" fill="#000" stroke="#000" stroke-width="0.12">10<tspan font-size="2.6" dy="-1.2">3</tspan></text>
<text x="217.87" y="98.70" transform="rotate(0.03 217.87 98.70)" font-size="3.5" font-weight="bold" text-anchor="middle" fill="#000" stroke="#000" stroke-width="0.12">10<tspan font-size="2.6" dy="-1.2">4</tspan></text>
<text x="229.09" y="98.70" transform="rotate(0.03 229.09 98.70)" font-size="3.5" font-weight="bold" text-anchor="middle" fill="#000" stroke="#000" stroke-width="0.12">10<tspan font-size="2.6" dy="-1.2">5</tspan></text>
<text x="174.00" y="88.85" transform="rotate(0.03 174.00 88.85)" font-size="3.5" font-weight="bold" text-anchor="end" fill="#000" stroke="#000" stroke-width="0.12">0</text>
<text x="174.80" y="76.70" transform="rotate(0.03 174.80 76.70)" font-size="3.5" font-weight="bold" text-anchor="end" fill="#000" stroke="#000" stroke-width="0.12">10<tspan font-size="2.6" dy="-1.2">2</tspan></text>
<text x="174.80" y="64.38" transform="rotate(0.03 174.80 64.38)" font-size="3.5" font-weight="bold" text-anchor="end" fill="#000" stroke="#000" stroke-width="0.12">10<tspan font-size="2.6" dy="-1.2">3</tspan></text>
<text x="174.80" y="52.51" transform="rotate(0.03 174.80 52.51)" font-size="3.5" font-weight="bold" text-anchor="end" fill="#000" stroke="#000" stroke-width="0.12">10<tspan font-size="2.6" dy="-1.2">4</tspan></text>
<text x="174.80" y="40.64" transform="rotate(0.03 174.80 40.64)" font-size="3.5" font-weight="bold" text-anchor="end" fill="#000" stroke="#000" stroke-width="0.12">10<tspan font-size="2.6" dy="-1.2">5</tspan></text>
<path d="M254.4 82.1h0.8M257.1 71.4h0.8M250.3 83.4h0.8M254.5 78.3h0.8M257.0 77.0h0.8M256.4 84.1h0.8M250.6 78.9h0.8M257.3 83.3h0.8M257.5 77.0h0.8M248.8 83.3h0.8M252.2 79.5h0.8M252.9 86.1h0.8M250.9 85.8h0.8M256.9 82.6h0.8M250.2 77.4h0.8M258.8 75.9h0.8M253.3 87.6h0.8M250.7 83.0h0.8M257.5 83.5h0.8M254.5 83.1h0.8M253.9 80.6h0.8M259.3 80.4h0.8M256.5 76.3h0.8M253.8 83.1h0.8M251.4 80.5h0.8M253.3 85.5h0.8M254.7 85.1h0.8M252.1 85.1h0.8M257.9 79.9h0.8M255.7 86.5h0.8M250.0 78.8h0.8M253.6 88.6h0.8M254.3 79.9h0.8M250.5 88.6h0.8M255.1 85.0h0.8M256.3 76.8h0.8M255.5 82.8h0.8M254.4 84.5h0.8M254.2 81.0h0.8M253.8 78.9h0.8M260.5 79.1h0.8M255.3 78.2h0.8M256.0 81.7h0.8M253.4 79.1h0.8M255.9 78.9h0.8M252.6 81.1h0.8M256.3 81.2h0.8M256.0 72.5h0.8M250.1 83.3h0.8M251.8 89.4h0.8M254.0 80.4h0.8M254.6 86.3h0.8M251.2 86.9h0.8M254.5 85.1h0.8M251.0 78.2h0.8M252.6 84.2h0.8M253.2 85.3h0.8M254.6 83.1h0.8M255.9 85.3h0.8M251.0 77.4h0.8M254.3 79.2h0.8M257.2 77.6h0.8M254.6 87.8h0.8M250.8 81.3h0.8M256.1 78.5h0.8M252.0 88.5h0.8M254.9 85.6h0.8M258.2 81.3h0.8M253.2 79.8h0.8M255.3 84.8h0.8M256.4 73.1h0.8M251.6 85.3h0.8M252.0 91.5h0.8M256.0 78.1h0.8M256.8 78.5h0.8M249.8 86.0h0.8M252.9 87.8h0.8M251.9 81.2h0.8M253.8 75.1h0.8M255.6 88.4h0.8M256.6 75.5h0.8M254.6 86.6h0.8M258.6 83.6h0.8M254.3 89.4h0.8M251.6 90.9h0.8M257.0 75.4h0.8M253.6 88.0h0.8M254.4 80.7h0.8M250.9 89.4h0.8M254.3 79.5h0.8M254.7 80.1h0.8M255.2 84.9h0.8M254.2 83.7h0.8M255.6 84.0h0.8M257.9 79.1h0.8M255.7 78.6h0.8M256.9 78.4h0.8M250.4 87.8h0.8M258.9 76.6h0.8M255.8 79.1h0.8M253.0 85.8h0.8M253.0 78.8h0.8M255.4 74.5h0.8M255.7 73.8h0.8M255.6 85.7h0.8M258.6 77.3h0.8M257.3 78.9h0.8M253.7 82.0h0.8M251.9 88.8h0.8M252.4 85.7h0.8M251.3 85.0h0.8M255.2 73.6h0.8M258.8 78.6h0.8M256.6 81.1h0.8M255.4 81.4h0.8M253.2 82.8h0.8M251.0 83.2h0.8M253.8 86.7h0.8M253.7 80.6h0.8M252.9 81.5h0.8M255.8 74.9h0.8M251.9 84.5h0.8M255.7 75.2h0.8M255.1 78.6h0.8M251.0 87.1h0.8M258.4 79.9h0.8M259.6 80.6h0.8M253.8 88.7h0.8M256.0 79.7h0.8M259.3 77.4h0.8M253.9 87.9h0.8M254.3 78.5h0.8M256.3 75.8h0.8M256.5 80.5h0.8M255.9 80.1h0.8M251.3 78.0h0.8M255.4 85.3h0.8M255.4 80.1h0.8M256.9 74.4h0.8M247.3 85.8h0.8M258.1 82.7h0.8M250.1 84.6h0.8M255.3 80.0h0.8M251.9 86.0h0.8M255.0 78.7h0.8M259.7 76.6h0.8M257.1 80.4h0.8M254.2 86.1h0.8M256.2 87.5h0.8M254.8 81.3h0.8M255.2 76.3h0.8M254.3 81.8h0.8M256.5 86.4h0.8M253.8 82.3h0.8M256.8 83.2h0.8M256.4 78.9h0.8M251.0 90.7h0.8M251.1 84.3h0.8M255.0 78.8h0.8M256.5 82.5h0.8M257.0 76.7h0.8M255.6 79.2h0.8M251.4 83.1h0.8M252.0 88.7h0.8M253.7 82.1h0.8M254.4 83.4h0.8M252.1 83.2h0.8M252.7 89.0h0.8M254.7 76.1h0.8M253.5 86.9h0.8M257.8 72.6h0.8M253.8 83.4h0.8M255.0 70.0h0.8M254.8 77.8h0.8M255.6 88.2h0.8M251.9 89.0h0.8M255.5 80.7h0.8M258.8 79.5h0.8M255.2 81.1h0.8M254.8 72.7h0.8M255.2 75.7h0.8M257.6 81.8h0.8M256.1 82.1h0.8M254.8 81.2h0.8M254.6 83.8h0.8M258.2 80.0h0.8M256.2 74.0h0.8M256.0 76.7h0.8M257.8 75.0h0.8M258.6 84.2h0.8M259.2 78.0h0.8M250.3 88.0h0.8M251.2 84.8h0.8M250.9 88.9h0.8M255.2 80.8h0.8M252.6 84.5h0.8M254.3 81.9h0.8M254.5 82.9h0.8M256.6 86.6h0.8M253.3 82.5h0.8M253.5 85.0h0.8M253.5 82.0h0.8M257.5 80.3h0.8M253.9 81.1h0.8M253.9 90.1h0.8M255.1 83.0h0.8M253.1 80.7h0.8M254.6 84.1h0.8M254.5 82.4h0.8M255.6 80.3h0.8M253.4 87.9h0.8M251.9 84.7h0.8M251.7 81.3h0.8M254.0 89.4h0.8M258.4 82.7h0.8M254.4 83.1h0.8M252.5 90.6h0.8M250.0 82.3h0.8M257.0 71.5h0.8M251.0 82.7h0.8M254.5 78.7h0.8M253.3 80.2h0.8M256.6 77.8h0.8M258.0 79.8h0.8M258.2 81.7h0.8M258.5 89.5h0.8M254.5 85.1h0.8M254.5 77.9h0.8M256.2 80.2h0.8M258.6 84.4h0.8M252.5 77.7h0.8M255.3 89.5h0.8M255.3 86.0h0.8M258.0 74.6h0.8M253.2 78.0h0.8M252.5 80.0h0.8M255.9 81.4h0.8M251.1 85.9h0.8M249.0 88.7h0.8M250.1 80.9h0.8M255.9 79.4h0.8M253.3 74.7h0.8M256.4 80.2h0.8M255.7 77.3h0.8M253.1 88.7h0.8M254.4 88.7h0.8M254.5 79.0h0.8M258.1 78.0h0.8M255.0 78.7h0.8M257.9 80.5h0.8M251.6 87.5h0.8M251.5 88.0h0.8M254.2 80.9h0.8M254.9 81.4h0.8M253.6 81.0h0.8M256.6 77.3h0.8M258.1 80.2h0.8M253.9 75.8h0.8M255.0 80.0h0.8M253.7 78.9h0.8M253.5 86.8h0.8M254.4 83.9h0.8M256.5 81.8h0.8M254.8 82.6h0.8M255.3 83.8h0.8M257.2 85.4h0.8M253.6 85.5h0.8M256.1 80.6h0.8M255.7 82.3h0.8M252.8 87.8h0.8M253.7 84.8h0.8M255.2 80.1h0.8M256.8 80.5h0.8M252.7 87.7h0.8M254.6 80.5h0.8M259.2 77.4h0.8M258.7 71.2h0.8M252.0 79.3h0.8M257.2 74.5h0.8M254.5 78.3h0.8M253.3 83.2h0.8M254.5 75.0h0.8M254.0 78.7h0.8M254.7 84.7h0.8M255.1 78.9h0.8M252.8 80.9h0.8M252.8 86.9h0.8M255.0 82.5h0.8M252.1 90.3h0.8M254.6 81.0h0.8M253.4 82.2h0.8M250.8 83.5h0.8M255.5 80.1h0.8" stroke="#000" stroke-opacity="0.55" stroke-width="0.8" fill="none"/>
<path d="M255.9 78.9h0.7M257.8 75.4h0.7M258.2 77.0h0.7M255.6 77.3h0.7M260.5 77.1h0.7M259.2 76.2h0.7M257.4 81.0h0.7M262.1 79.2h0.7M258.3 78.3h0.7M260.5 77.0h0.7M257.6 76.6h0.7M258.7 78.4h0.7M259.3 76.0h0.7M260.1 77.5h0.7M257.4 79.0h0.7M255.3 78.8h0.7M258.6 74.1h0.7M256.7 77.7h0.7M260.5 76.3h0.7M257.7 77.6h0.7M255.7 81.4h0.7M260.4 75.7h0.7M257.3 80.9h0.7M257.8 75.2h0.7M254.5 81.9h0.7M260.4 72.9h0.7M261.5 76.6h0.7M259.1 78.7h0.7M258.8 77.9h0.7M258.0 74.7h0.7M258.4 78.0h0.7M257.6 77.3h0.7M256.2 78.4h0.7M259.1 73.5h0.7M252.2 84.1h0.7M254.3 78.1h0.7M263.8 73.5h0.7M257.8 75.3h0.7M251.2 82.5h0.7M249.4 82.9h0.7M256.2 79.9h0.7M258.4 78.7h0.7M260.4 76.2h0.7M258.5 71.7h0.7M256.3 76.7h0.7M255.4 76.6h0.7M260.0 76.1h0.7M260.1 72.8h0.7M261.1 75.7h0.7M257.4 75.6h0.7M253.7 81.8h0.7M258.8 75.9h0.7M262.3 71.0h0.7M258.3 76.5h0.7M254.1 80.6h0.7M258.2 78.1h0.7M257.7 76.6h0.7M255.0 80.8h0.7M252.9 78.4h0.7M254.8 83.5h0.7M259.5 77.2h0.7M260.0 77.2h0.7M263.0 72.9h0.7M257.9 77.5h0.7M257.0 76.5h0.7M262.6 75.6h0.7M254.7 78.5h0.7M260.2 79.5h0.7M255.7 81.4h0.7M258.9 75.9h0.7M255.6 81.7h0.7M259.3 81.4h0.7M259.2 77.3h0.7M262.4 72.6h0.7M256.0 79.6h0.7M256.8 80.1h0.7M257.7 75.7h0.7M253.6 81.0h0.7M261.3 73.9h0.7M255.4 81.1h0.7M255.3 83.0h0.7M260.4 75.9h0.7M255.7 82.3h0.7M256.5 79.8h0.7M261.9 76.2h0.7M257.8 75.4h0.7M259.2 77.3h0.7M251.9 78.5h0.7M259.0 78.0h0.7M257.3 80.3h0.7M255.2 82.8h0.7M258.8 76.0h0.7M257.9 76.0h0.7M258.9 76.8h0.7M255.2 78.2h0.7M260.5 74.7h0.7M260.7 77.0h0.7M255.0 76.9h0.7M256.0 78.4h0.7M257.0 78.3h0.7M256.8 79.6h0.7M252.9 76.7h0.7M258.0 81.9h0.7M255.2 82.0h0.7M255.6 84.8h0.7M259.0 73.4h0.7M256.9 76.8h0.7M259.0 79.7h0.7M260.6 79.7h0.7M256.0 79.7h0.7M260.7 75.7h0.7M257.2 80.0h0.7M257.7 77.8h0.7M259.4 73.7h0.7M259.4 76.7h0.7M257.1 74.7h0.7M258.0 77.7h0.7M262.1 71.6h0.7M258.9 77.3h0.7M255.9 76.7h0.7M256.3 76.6h0.7M255.5 79.1h0.7M258.5 77.0h0.7M258.1 76.8h0.7M254.6 82.3h0.7M257.1 74.3h0.7M257.2 80.2h0.7M255.8 79.0h0.7M260.5 77.3h0.7M258.9 76.7h0.7" stroke="#000" stroke-opacity="0.4" stroke-width="0.7" fill="none"/>
<path d="M260.0 77.3h0.7M260.6 76.6h0.7M262.6 77.9h0.7M264.3 72.1h0.7M262.7 71.3h0.7M262.8 77.8h0.7M261.2 74.0h0.7M259.0 78.1h0.7M262.3 73.5h0.7M259.8 76.0h0.7M259.5 76.7h0.7M260.8 72.9h0.7M256.3 77.6h0.7M265.7 72.5h0.7M261.5 73.1h0.7M258.1 78.6h0.7M256.1 79.9h0.7M261.7 73.0h0.7M259.8 76.9h0.7M262.2 73.3h0.7M261.8 78.6h0.7M259.4 80.8h0.7M261.7 76.4h0.7M259.1 72.7h0.7M264.9 72.5h0.7M261.8 74.3h0.7M259.3 75.8h0.7M266.6 74.5h0.7M259.1 75.4h0.7M263.6 72.3h0.7M258.2 76.4h0.7M260.2 77.8h0.7M261.2 75.9h0.7M263.7 73.0h0.7M258.7 75.7h0.7M260.0 76.7h0.7M259.6 73.4h0.7M259.8 78.9h0.7M258.7 74.3h0.7M267.3 74.6h0.7M260.0 76.1h0.7M256.9 75.8h0.7M260.9 74.5h0.7M267.5 72.9h0.7M263.3 72.4h0.7M259.1 76.9h0.7M265.5 71.7h0.7M261.4 77.0h0.7M263.6 72.9h0.7M267.4 69.5h0.7" stroke="#000" stroke-opacity="0.25" stroke-width="0.7" fill="none"/>
<ellipse cx="254.4" cy="82.6" rx="3.6" ry="7.4" transform="rotate(18 254.4 82.6)" fill="#050505" filter="url(#bl)"/>
<rect x="243.50" y="36.40" width="56.10" height="56.10" fill="none" stroke="#9a9a9a" stroke-width="1.0"/>
<rect x="257.00" y="50.30" width="26.60" height="29.80" fill="none" stroke="#a2a2a2" stroke-width="0.7"/>
<text x="266.60" y="66.40" transform="rotate(0.03 266.60 66.40)" font-size="6.9" text-anchor="start" fill="#1c1c1c" stroke="#1c1c1c" stroke-width="0.1">7.1%</text>
<path d="M245.50 93.40H298.60" stroke="#555" stroke-width="0.9" stroke-dasharray="0.7 1.3" fill="none"/>
<path d="M242.60 38.40V91.50" stroke="#777" stroke-width="0.8" stroke-dasharray="0.7 1.6" fill="none"/>
<rect x="250.30" y="93.10" width="1.80" height="1.20" fill="#222"/>
<text x="251.63" y="98.90" transform="rotate(0.03 251.63 98.90)" font-size="3.5" font-weight="bold" text-anchor="middle" fill="#000" stroke="#000" stroke-width="0.12">0</text>
<text x="260.05" y="98.90" transform="rotate(0.03 260.05 98.90)" font-size="3.5" font-weight="bold" text-anchor="middle" fill="#000" stroke="#000" stroke-width="0.12">10<tspan font-size="2.6" dy="-1.2">2</tspan></text>
<text x="272.67" y="98.90" transform="rotate(0.03 272.67 98.90)" font-size="3.5" font-weight="bold" text-anchor="middle" fill="#000" stroke="#000" stroke-width="0.12">10<tspan font-size="2.6" dy="-1.2">3</tspan></text>
<text x="284.17" y="98.90" transform="rotate(0.03 284.17 98.90)" font-size="3.5" font-weight="bold" text-anchor="middle" fill="#000" stroke="#000" stroke-width="0.12">10<tspan font-size="2.6" dy="-1.2">4</tspan></text>
<text x="295.39" y="98.90" transform="rotate(0.03 295.39 98.90)" font-size="3.5" font-weight="bold" text-anchor="middle" fill="#000" stroke="#000" stroke-width="0.12">10<tspan font-size="2.6" dy="-1.2">5</tspan></text>
<text x="240.30" y="89.04" transform="rotate(0.03 240.30 89.04)" font-size="3.5" font-weight="bold" text-anchor="end" fill="#000" stroke="#000" stroke-width="0.12">0</text>
<text x="241.10" y="76.87" transform="rotate(0.03 241.10 76.87)" font-size="3.5" font-weight="bold" text-anchor="end" fill="#000" stroke="#000" stroke-width="0.12">10<tspan font-size="2.6" dy="-1.2">2</tspan></text>
<text x="241.10" y="64.53" transform="rotate(0.03 241.10 64.53)" font-size="3.5" font-weight="bold" text-anchor="end" fill="#000" stroke="#000" stroke-width="0.12">10<tspan font-size="2.6" dy="-1.2">3</tspan></text>
<text x="241.10" y="52.63" transform="rotate(0.03 241.10 52.63)" font-size="3.5" font-weight="bold" text-anchor="end" fill="#000" stroke="#000" stroke-width="0.12">10<tspan font-size="2.6" dy="-1.2">4</tspan></text>
<text x="241.10" y="40.74" transform="rotate(0.03 241.10 40.74)" font-size="3.5" font-weight="bold" text-anchor="end" fill="#000" stroke="#000" stroke-width="0.12">10<tspan font-size="2.6" dy="-1.2">5</tspan></text>
<path d="M163.20 84.30V110.80H189.70" stroke="#000" stroke-width="1.6" fill="none"/>
<path d="M163.20 75.30l-5.4 10h10.8z" fill="#000"/>
<path d="M198.70 110.80l-10.3 -5.3v10.6z" fill="#000"/>
<text x="201.70" y="114.20" transform="rotate(0.03 201.70 114.20)" font-size="10.1" text-anchor="start" fill="#0a0a0a" stroke="#0a0a0a" stroke-width="0.16">FOXP3</text>
<text transform="translate(167.30,71.50) rotate(-90)" font-size="10.1" text-anchor="start" fill="#0a0a0a" stroke="#0a0a0a" stroke-width="0.16">CD25</text>
<text x="303.80" y="44.60" transform="rotate(0.03 303.80 44.60)" font-size="10.1" text-anchor="start" fill="#0a0a0a" stroke="#0a0a0a" stroke-width="0.16">nTreg</text>
<path d="M189.8 176.5h0.8M188.0 180.2h0.8M188.6 177.4h0.8M189.4 174.2h0.8M188.6 179.8h0.8M189.8 172.5h0.8M185.7 178.6h0.8M189.2 176.1h0.8M189.1 178.1h0.8M187.5 173.5h0.8M192.2 180.3h0.8M181.4 181.2h0.8M186.1 181.3h0.8M183.8 180.0h0.8M187.7 180.4h0.8M190.1 169.6h0.8M191.5 172.6h0.8M186.8 177.2h0.8M187.7 175.0h0.8M189.3 177.8h0.8M189.2 180.0h0.8M189.8 172.7h0.8M186.9 177.4h0.8M183.6 178.3h0.8M190.0 180.4h0.8M192.2 175.5h0.8M190.0 178.1h0.8M190.6 181.7h0.8M187.6 175.7h0.8M186.1 177.5h0.8M186.9 178.1h0.8M188.6 171.1h0.8M184.7 178.1h0.8M191.1 180.0h0.8M188.0 171.3h0.8M187.2 184.3h0.8M188.6 180.4h0.8M186.4 182.1h0.8M188.5 179.6h0.8M185.5 180.7h0.8M188.8 180.6h0.8M190.6 182.0h0.8M188.8 179.2h0.8M191.8 178.1h0.8M186.1 183.8h0.8M192.8 173.5h0.8M185.1 181.4h0.8M185.4 175.3h0.8M188.9 184.3h0.8M188.3 175.4h0.8M187.8 177.1h0.8M187.5 178.1h0.8M188.3 180.5h0.8M188.7 177.5h0.8M187.7 180.8h0.8M185.2 179.4h0.8M186.4 175.2h0.8M190.1 179.4h0.8M191.2 179.6h0.8M185.8 173.8h0.8M186.7 180.0h0.8M183.6 184.4h0.8M184.8 180.9h0.8M183.2 178.2h0.8M186.9 181.1h0.8M186.2 177.3h0.8M191.7 177.5h0.8M191.9 171.0h0.8M191.2 175.6h0.8M184.0 178.8h0.8M186.8 178.6h0.8M183.0 182.5h0.8M188.4 181.2h0.8M188.5 172.9h0.8M188.4 180.4h0.8M193.8 181.6h0.8M185.5 178.8h0.8M188.5 175.6h0.8M185.8 175.3h0.8M189.1 174.1h0.8M183.9 181.0h0.8M191.8 169.8h0.8M191.1 176.5h0.8M188.3 180.3h0.8M190.6 179.0h0.8M184.0 175.4h0.8M187.9 177.8h0.8M182.2 182.2h0.8M193.0 180.0h0.8M181.8 182.9h0.8M186.5 180.1h0.8M184.7 178.5h0.8M187.7 176.1h0.8M185.1 178.5h0.8M186.7 179.0h0.8M190.2 177.0h0.8M186.9 184.4h0.8M188.0 176.0h0.8M186.2 179.8h0.8M188.8 173.9h0.8M187.0 184.3h0.8M186.8 184.1h0.8M187.1 173.0h0.8M188.6 178.6h0.8M190.4 178.2h0.8M188.6 177.4h0.8M188.9 182.5h0.8M189.6 174.7h0.8M185.5 175.3h0.8M187.9 176.4h0.8M189.2 174.9h0.8M186.2 181.5h0.8M188.8 176.1h0.8M189.3 176.6h0.8M186.6 175.9h0.8M189.0 174.5h0.8M181.3 179.5h0.8M181.6 181.8h0.8M186.1 179.3h0.8M186.6 180.3h0.8M188.3 177.2h0.8M185.8 178.1h0.8M185.6 178.6h0.8M186.9 182.2h0.8M190.8 171.5h0.8M187.5 178.9h0.8M190.3 181.3h0.8M185.6 176.4h0.8M190.1 178.7h0.8M185.8 178.7h0.8M184.2 182.4h0.8M189.3 175.2h0.8M190.5 181.5h0.8M184.5 183.2h0.8M184.4 174.2h0.8M185.3 181.2h0.8M188.3 176.8h0.8M191.5 179.7h0.8M190.1 176.7h0.8M184.8 180.0h0.8M184.2 175.7h0.8M185.9 176.6h0.8M191.2 178.5h0.8M185.5 179.6h0.8M185.1 177.4h0.8M188.3 180.8h0.8M186.0 177.4h0.8M184.1 175.5h0.8M185.8 180.5h0.8M185.4 174.9h0.8M189.9 173.1h0.8M189.5 177.3h0.8M192.2 173.7h0.8M188.9 176.1h0.8M189.7 176.5h0.8M187.4 184.0h0.8M193.1 179.4h0.8M182.2 184.4h0.8M192.8 171.6h0.8M186.2 178.7h0.8M186.9 178.2h0.8M190.8 180.6h0.8M188.7 177.8h0.8M188.2 177.9h0.8M186.8 183.6h0.8M189.0 176.6h0.8M189.3 173.7h0.8M183.2 174.6h0.8M185.4 178.8h0.8M187.8 176.3h0.8M196.1 175.1h0.8M187.4 180.8h0.8M188.4 176.5h0.8M185.3 175.9h0.8M190.8 175.3h0.8M187.5 179.5h0.8M183.5 179.2h0.8M185.3 181.8h0.8M190.4 179.9h0.8M186.4 176.7h0.8M192.6 177.8h0.8M190.7 178.9h0.8M188.8 176.4h0.8M184.8 177.1h0.8M192.5 175.5h0.8M188.5 181.9h0.8M192.4 175.5h0.8M184.5 178.2h0.8M184.0 183.2h0.8M182.3 177.6h0.8M193.5 177.1h0.8M186.1 181.5h0.8M186.3 177.7h0.8M191.6 179.5h0.8M188.9 183.7h0.8M191.8 176.4h0.8M186.0 174.8h0.8M187.5 174.4h0.8M190.6 171.5h0.8M185.7 179.7h0.8M188.8 178.6h0.8M191.8 178.4h0.8M190.4 172.6h0.8M185.5 181.8h0.8M188.8 178.5h0.8M188.0 179.9h0.8M187.6 177.2h0.8M189.7 179.9h0.8M187.5 181.2h0.8M187.3 183.5h0.8M190.3 174.9h0.8M187.5 181.0h0.8M186.6 181.5h0.8M183.8 175.9h0.8M196.4 177.2h0.8M184.8 178.6h0.8M189.4 182.7h0.8M182.8 180.0h0.8M182.6 177.3h0.8M186.5 179.1h0.8M187.8 180.4h0.8M187.4 179.8h0.8M191.0 176.9h0.8M187.7 180.4h0.8M186.2 182.0h0.8M187.8 172.7h0.8M190.7 176.0h0.8M192.1 172.6h0.8M188.3 178.8h0.8M184.9 179.6h0.8M187.0 184.2h0.8M184.5 174.5h0.8M188.4 176.7h0.8M188.3 179.8h0.8M189.0 174.4h0.8M187.0 177.5h0.8M190.5 178.5h0.8M188.2 180.7h0.8M189.4 178.8h0.8M190.8 179.2h0.8M192.2 176.9h0.8M185.6 182.9h0.8M189.5 180.3h0.8M192.5 171.6h0.8M189.1 182.3h0.8M187.7 181.0h0.8M183.1 180.2h0.8M193.5 176.8h0.8M189.9 173.2h0.8M185.3 181.2h0.8M188.5 176.6h0.8M184.8 179.8h0.8M187.5 175.7h0.8M183.6 183.0h0.8M186.5 180.4h0.8M189.7 179.4h0.8M194.9 176.4h0.8M190.0 174.0h0.8M190.3 177.7h0.8M185.6 180.8h0.8M189.5 177.1h0.8M189.3 175.8h0.8M185.5 183.0h0.8M191.5 177.8h0.8M183.7 175.2h0.8M185.6 183.0h0.8" stroke="#000" stroke-opacity="0.55" stroke-width="0.8" fill="none"/>
<path d="M194.9 176.3h0.7M189.4 173.8h0.7M189.5 170.4h0.7M192.3 168.8h0.7M192.4 174.7h0.7M190.1 176.3h0.7M190.5 175.7h0.7M194.3 176.9h0.7M189.2 180.9h0.7M196.5 173.2h0.7M192.0 175.1h0.7M195.0 173.0h0.7M194.6 174.3h0.7M191.6 175.3h0.7M186.4 175.0h0.7M187.3 179.3h0.7M194.0 174.0h0.7M194.4 170.1h0.7M197.6 169.5h0.7M191.3 170.7h0.7M189.4 176.3h0.7M195.0 174.2h0.7M191.6 176.0h0.7M196.1 178.8h0.7M195.8 171.0h0.7M191.8 173.8h0.7M189.1 173.8h0.7M201.2 173.1h0.7M196.2 173.3h0.7M191.0 176.5h0.7M191.4 178.1h0.7M187.9 173.0h0.7M191.9 173.8h0.7M192.9 173.5h0.7M187.4 179.1h0.7M193.9 171.9h0.7M188.6 177.8h0.7M188.8 174.9h0.7M193.0 174.5h0.7M190.1 175.1h0.7M192.1 176.6h0.7M193.0 176.1h0.7M194.9 172.4h0.7M189.9 174.6h0.7M192.2 176.5h0.7M189.3 179.9h0.7M188.6 175.7h0.7M195.6 174.8h0.7M192.5 174.0h0.7M194.3 173.0h0.7M195.7 171.7h0.7M189.7 175.1h0.7M185.0 178.4h0.7M192.1 173.7h0.7M191.1 173.5h0.7M196.0 175.2h0.7M190.4 175.1h0.7M193.5 174.0h0.7M194.5 176.6h0.7M194.3 171.4h0.7M195.3 172.6h0.7M191.3 174.4h0.7M191.8 178.7h0.7M190.2 175.9h0.7M190.5 177.8h0.7M191.3 176.1h0.7M192.2 175.0h0.7M192.5 172.5h0.7M192.4 173.9h0.7M188.3 183.2h0.7M190.8 174.0h0.7M191.0 176.8h0.7M188.3 174.6h0.7M190.4 175.1h0.7M195.4 172.3h0.7M198.7 172.4h0.7M194.9 172.2h0.7M190.0 175.7h0.7M190.3 178.0h0.7M192.9 176.4h0.7M197.0 174.5h0.7M190.4 175.5h0.7M190.4 175.6h0.7M190.2 179.0h0.7M184.8 181.0h0.7M196.6 172.0h0.7M192.5 175.8h0.7M191.6 174.5h0.7M187.8 178.6h0.7M189.3 173.3h0.7M188.8 173.7h0.7M190.6 169.5h0.7M191.8 175.0h0.7M196.1 171.3h0.7M194.8 176.2h0.7M195.4 169.7h0.7M191.7 176.2h0.7M188.7 174.1h0.7M192.9 174.6h0.7M188.3 173.0h0.7M194.6 173.9h0.7M196.4 175.2h0.7M194.6 176.1h0.7M196.2 173.8h0.7M195.7 174.3h0.7M193.2 171.9h0.7M189.3 176.0h0.7M189.5 174.2h0.7M190.2 176.6h0.7M191.4 172.6h0.7M188.9 176.4h0.7M191.0 176.7h0.7M189.6 176.4h0.7M192.6 178.2h0.7M192.7 177.4h0.7M192.0 169.8h0.7M189.1 176.4h0.7M191.2 173.1h0.7M190.6 179.6h0.7M187.2 176.7h0.7" stroke="#000" stroke-opacity="0.3" stroke-width="0.7" fill="none"/>
<path d="M200.3 169.8h0.7M196.3 171.5h0.7M193.7 170.6h0.7M198.6 174.1h0.7M199.9 168.3h0.7M194.8 176.2h0.7M193.9 176.2h0.7M198.7 171.7h0.7M198.2 172.2h0.7M204.9 172.0h0.7M192.7 179.0h0.7M200.2 173.8h0.7M197.8 171.8h0.7M201.3 175.6h0.7M194.2 173.3h0.7M198.3 170.0h0.7M196.5 177.7h0.7M204.9 175.1h0.7M194.1 172.6h0.7M193.7 167.9h0.7M200.2 171.0h0.7M196.8 167.9h0.7M201.7 173.6h0.7M205.3 175.1h0.7M196.1 172.4h0.7M199.7 174.6h0.7M206.9 167.5h0.7M194.3 172.6h0.7M195.8 174.1h0.7M203.9 171.2h0.7M198.5 172.4h0.7M193.1 170.9h0.7M195.2 170.3h0.7M196.7 174.0h0.7M206.4 170.6h0.7M195.8 174.4h0.7M202.0 167.6h0.7M202.1 172.8h0.7M193.4 175.2h0.7M198.4 172.1h0.7M195.7 170.2h0.7M194.2 175.1h0.7M201.5 170.9h0.7M197.0 170.7h0.7M192.0 170.2h0.7M209.9 165.8h0.7M199.6 167.9h0.7M199.3 169.4h0.7M198.0 172.3h0.7M201.6 176.0h0.7" stroke="#000" stroke-opacity="0.2" stroke-width="0.7" fill="none"/>
<ellipse cx="187.9" cy="178.6" rx="4.1" ry="6.1" transform="rotate(28 187.9 178.6)" fill="#050505" filter="url(#bl)"/>
<rect x="177.30" y="129.40" width="56.20" height="56.40" fill="none" stroke="#9a9a9a" stroke-width="1.0"/>
<rect x="193.20" y="145.60" width="29.40" height="27.70" fill="none" stroke="#a2a2a2" stroke-width="0.7"/>
<text x="204.80" y="160.90" transform="rotate(0.03 204.80 160.90)" font-size="6.9" text-anchor="start" fill="#1c1c1c" stroke="#1c1c1c" stroke-width="0.1">1.7%</text>
<path d="M179.30 186.70H232.50" stroke="#555" stroke-width="0.9" stroke-dasharray="0.7 1.3" fill="none"/>
<path d="M176.40 131.40V184.80" stroke="#777" stroke-width="0.8" stroke-dasharray="0.7 1.6" fill="none"/>
<text x="185.45" y="192.20" transform="rotate(0.03 185.45 192.20)" font-size="3.5" font-weight="bold" text-anchor="middle" fill="#000" stroke="#000" stroke-width="0.12">0</text>
<text x="193.88" y="192.20" transform="rotate(0.03 193.88 192.20)" font-size="3.5" font-weight="bold" text-anchor="middle" fill="#000" stroke="#000" stroke-width="0.12">10<tspan font-size="2.6" dy="-1.2">2</tspan></text>
<text x="206.52" y="192.20" transform="rotate(0.03 206.52 192.20)" font-size="3.5" font-weight="bold" text-anchor="middle" fill="#000" stroke="#000" stroke-width="0.12">10<tspan font-size="2.6" dy="-1.2">3</tspan></text>
<text x="218.05" y="192.20" transform="rotate(0.03 218.05 192.20)" font-size="3.5" font-weight="bold" text-anchor="middle" fill="#000" stroke="#000" stroke-width="0.12">10<tspan font-size="2.6" dy="-1.2">4</tspan></text>
<text x="229.28" y="192.20" transform="rotate(0.03 229.28 192.20)" font-size="3.5" font-weight="bold" text-anchor="middle" fill="#000" stroke="#000" stroke-width="0.12">10<tspan font-size="2.6" dy="-1.2">5</tspan></text>
<text x="174.10" y="182.32" transform="rotate(0.03 174.10 182.32)" font-size="3.5" font-weight="bold" text-anchor="end" fill="#000" stroke="#000" stroke-width="0.12">0</text>
<text x="174.90" y="170.08" transform="rotate(0.03 174.90 170.08)" font-size="3.5" font-weight="bold" text-anchor="end" fill="#000" stroke="#000" stroke-width="0.12">10<tspan font-size="2.6" dy="-1.2">2</tspan></text>
<text x="174.90" y="157.67" transform="rotate(0.03 174.90 157.67)" font-size="3.5" font-weight="bold" text-anchor="end" fill="#000" stroke="#000" stroke-width="0.12">10<tspan font-size="2.6" dy="-1.2">3</tspan></text>
<text x="174.90" y="145.72" transform="rotate(0.03 174.90 145.72)" font-size="3.5" font-weight="bold" text-anchor="end" fill="#000" stroke="#000" stroke-width="0.12">10<tspan font-size="2.6" dy="-1.2">4</tspan></text>
<text x="174.90" y="133.76" transform="rotate(0.03 174.90 133.76)" font-size="3.5" font-weight="bold" text-anchor="end" fill="#000" stroke="#000" stroke-width="0.12">10<tspan font-size="2.6" dy="-1.2">5</tspan></text>
<path d="M255.7 169.8h0.8M248.6 179.5h0.8M258.6 172.8h0.8M256.7 170.3h0.8M257.1 181.8h0.8M253.7 178.4h0.8M256.6 176.9h0.8M255.9 169.8h0.8M248.6 176.8h0.8M258.6 171.8h0.8M256.2 175.3h0.8M257.1 174.1h0.8M254.3 174.1h0.8M254.1 177.2h0.8M255.3 180.4h0.8M257.8 174.8h0.8M253.2 178.0h0.8M252.6 173.0h0.8M257.5 167.6h0.8M254.7 174.1h0.8M253.7 180.4h0.8M256.0 174.3h0.8M258.6 174.9h0.8M259.1 170.2h0.8M253.9 177.8h0.8M253.8 171.2h0.8M254.8 173.4h0.8M258.6 174.9h0.8M254.9 175.2h0.8M254.2 181.5h0.8M253.7 176.1h0.8M256.7 169.0h0.8M251.5 177.1h0.8M253.2 173.6h0.8M258.0 173.9h0.8M260.0 174.3h0.8M254.8 180.3h0.8M254.5 176.4h0.8M257.9 169.8h0.8M255.5 178.7h0.8M255.3 177.7h0.8M255.0 177.9h0.8M253.9 177.3h0.8M254.9 177.1h0.8M252.6 177.6h0.8M257.7 172.3h0.8M254.8 180.6h0.8M252.8 182.1h0.8M254.5 177.8h0.8M251.6 176.4h0.8M252.2 180.8h0.8M254.3 174.0h0.8M260.9 173.6h0.8M255.5 177.5h0.8M255.7 176.6h0.8M262.6 175.0h0.8M255.9 178.6h0.8M257.1 176.8h0.8M257.7 178.4h0.8M261.6 171.1h0.8M251.6 176.3h0.8M255.0 180.5h0.8M257.3 176.6h0.8M258.1 176.2h0.8M258.5 173.5h0.8M257.1 174.4h0.8M255.3 177.5h0.8M257.4 172.3h0.8M255.2 168.4h0.8M260.6 176.6h0.8M259.0 173.9h0.8M256.8 178.0h0.8M260.4 175.6h0.8M256.0 178.3h0.8M261.2 167.7h0.8M252.8 179.5h0.8M257.1 176.5h0.8M255.3 180.0h0.8M256.8 179.0h0.8M258.3 165.7h0.8M255.4 170.4h0.8M257.2 177.3h0.8M255.3 179.6h0.8M256.5 172.9h0.8M258.6 174.9h0.8M253.1 178.0h0.8M260.5 171.6h0.8M256.0 183.0h0.8M255.1 174.5h0.8M253.8 172.5h0.8M254.7 179.7h0.8M254.7 176.9h0.8M258.8 175.8h0.8M251.6 179.0h0.8M257.5 169.3h0.8M253.3 172.4h0.8M257.9 172.8h0.8M254.2 180.0h0.8M253.8 174.0h0.8M256.8 171.5h0.8M260.9 172.3h0.8M256.1 169.0h0.8M252.9 179.5h0.8M255.3 177.6h0.8M256.6 178.3h0.8M259.2 178.3h0.8M254.1 182.9h0.8M252.6 176.0h0.8M257.8 175.2h0.8M258.4 171.9h0.8M254.7 176.7h0.8M257.1 167.9h0.8M255.1 175.1h0.8M257.6 170.4h0.8M257.3 171.1h0.8M253.5 178.4h0.8M251.3 179.2h0.8M262.2 170.6h0.8M256.4 174.5h0.8M256.6 180.0h0.8M254.4 177.4h0.8M256.6 178.3h0.8M255.9 178.3h0.8M252.8 180.2h0.8M254.1 174.1h0.8M259.6 171.2h0.8M255.7 177.9h0.8M252.2 180.2h0.8M260.2 168.8h0.8M256.8 176.0h0.8M256.2 174.1h0.8M256.2 174.1h0.8M254.2 176.8h0.8M255.3 172.4h0.8M253.0 173.2h0.8M256.0 177.5h0.8M256.3 175.1h0.8M255.6 174.5h0.8M254.7 182.5h0.8M258.0 174.4h0.8M260.5 171.3h0.8M251.1 174.8h0.8M254.4 174.9h0.8M261.9 167.8h0.8M253.4 177.8h0.8M252.1 176.1h0.8M257.6 178.2h0.8M257.4 171.5h0.8M258.3 176.5h0.8M254.4 180.7h0.8M252.9 176.8h0.8M256.3 171.0h0.8M256.9 176.2h0.8M252.6 172.7h0.8M256.6 175.4h0.8M253.6 181.0h0.8M257.8 177.8h0.8M257.7 172.4h0.8M255.2 181.9h0.8M257.3 170.0h0.8M254.1 181.4h0.8M259.0 173.1h0.8M254.6 172.4h0.8M255.5 174.5h0.8M255.2 178.9h0.8M256.8 178.2h0.8M251.7 180.6h0.8M259.4 169.6h0.8M261.8 168.3h0.8M260.3 171.8h0.8M255.1 174.7h0.8M253.8 174.7h0.8M255.1 175.5h0.8M254.0 177.5h0.8M258.7 174.6h0.8M254.5 175.8h0.8M258.4 174.7h0.8M253.2 183.0h0.8M252.8 174.2h0.8M256.0 174.1h0.8M258.9 172.7h0.8M257.4 176.5h0.8M252.1 176.2h0.8M256.0 173.7h0.8M253.5 177.9h0.8M261.3 174.9h0.8M256.5 170.9h0.8M255.6 175.5h0.8M250.8 176.6h0.8M255.1 171.9h0.8M256.0 177.0h0.8M257.3 175.6h0.8M254.9 171.1h0.8M258.7 173.4h0.8M258.3 171.3h0.8M257.7 174.4h0.8M256.4 174.0h0.8M257.6 173.3h0.8M254.8 176.8h0.8M257.4 178.1h0.8M256.2 173.0h0.8M256.6 176.2h0.8M256.1 177.3h0.8M258.7 175.1h0.8M252.0 182.6h0.8M257.0 174.3h0.8M255.0 180.9h0.8M255.8 178.7h0.8M254.5 176.7h0.8M254.2 175.8h0.8M254.3 178.4h0.8M255.6 170.9h0.8M260.2 169.5h0.8M254.3 176.8h0.8M258.5 171.2h0.8M252.1 178.6h0.8M254.3 174.3h0.8M257.8 176.3h0.8M261.7 172.7h0.8M262.4 171.8h0.8M256.0 169.2h0.8M254.9 178.1h0.8M260.0 173.1h0.8M257.4 179.0h0.8M260.8 169.0h0.8M257.1 172.5h0.8M254.9 178.0h0.8M252.2 177.1h0.8M259.3 170.4h0.8M258.5 171.5h0.8M253.9 181.6h0.8M257.8 173.8h0.8M258.7 174.7h0.8M254.0 175.6h0.8M254.8 182.1h0.8M254.7 179.6h0.8M253.4 179.4h0.8M258.6 165.9h0.8M260.6 173.9h0.8M259.1 173.8h0.8M257.2 177.1h0.8M256.0 181.4h0.8M260.8 175.0h0.8M257.7 176.5h0.8M256.9 179.1h0.8M255.2 173.1h0.8M257.7 181.1h0.8M258.4 178.5h0.8M256.9 173.3h0.8M254.6 177.8h0.8M255.6 174.6h0.8M258.5 169.3h0.8M257.0 168.2h0.8M253.8 171.2h0.8M255.5 173.4h0.8M255.9 175.5h0.8M253.9 175.8h0.8M261.4 171.5h0.8M256.1 175.6h0.8M258.0 175.0h0.8M256.2 174.8h0.8M259.5 170.0h0.8M253.5 179.5h0.8M256.3 172.6h0.8M258.7 174.5h0.8M261.6 172.3h0.8M259.8 168.2h0.8M260.3 172.0h0.8M257.7 179.7h0.8M251.7 180.7h0.8M258.0 170.7h0.8M255.9 172.2h0.8M257.7 169.4h0.8M252.1 181.2h0.8M253.8 180.8h0.8M260.4 175.8h0.8M254.1 178.4h0.8M258.5 175.5h0.8M258.1 172.4h0.8M254.6 184.7h0.8M253.9 181.4h0.8M260.4 175.1h0.8M253.5 176.2h0.8M256.3 178.6h0.8M259.0 170.5h0.8M256.9 177.6h0.8M254.0 184.0h0.8M257.2 173.5h0.8M253.9 177.1h0.8M264.6 173.6h0.8M251.9 176.5h0.8M255.1 178.0h0.8M257.8 174.9h0.8M258.7 172.0h0.8M259.2 173.1h0.8M250.7 174.7h0.8M251.9 175.0h0.8M256.8 179.8h0.8M256.4 172.4h0.8M253.6 177.2h0.8M254.3 180.3h0.8M254.6 172.3h0.8M257.9 174.4h0.8M256.0 175.3h0.8M256.9 174.4h0.8M251.8 175.5h0.8M258.0 178.4h0.8M255.8 176.1h0.8M254.7 174.8h0.8M255.5 177.0h0.8M253.8 178.2h0.8M253.6 177.2h0.8M259.6 169.8h0.8M257.3 179.4h0.8M258.8 170.6h0.8M261.5 179.6h0.8M256.2 176.7h0.8M259.0 177.3h0.8M255.2 168.4h0.8" stroke="#000" stroke-opacity="0.55" stroke-width="0.8" fill="none"/>
<path d="M263.4 174.9h0.7M260.6 169.7h0.7M258.7 172.2h0.7M260.8 175.2h0.7M258.7 171.2h0.7M264.0 171.9h0.7M263.8 172.2h0.7M261.2 172.1h0.7M256.8 173.8h0.7M259.4 178.5h0.7M258.1 175.4h0.7M258.0 175.7h0.7M258.5 178.4h0.7M263.1 171.0h0.7M261.3 172.6h0.7M260.7 172.9h0.7M257.3 177.2h0.7M260.7 170.4h0.7M261.2 168.9h0.7M256.5 175.1h0.7M258.7 171.0h0.7M265.5 170.9h0.7M262.7 171.8h0.7M257.6 174.2h0.7M257.4 171.0h0.7M262.2 169.2h0.7M261.6 176.8h0.7M262.9 171.1h0.7M253.5 175.9h0.7M263.5 167.5h0.7M257.5 172.5h0.7M261.5 172.3h0.7M259.7 171.9h0.7M262.2 170.3h0.7M259.3 175.7h0.7M264.4 167.9h0.7M258.8 173.4h0.7M262.9 174.7h0.7M262.0 166.9h0.7M261.3 173.5h0.7M266.5 169.3h0.7M261.1 173.0h0.7M261.0 175.8h0.7M256.7 177.4h0.7M263.2 171.3h0.7M263.9 174.8h0.7M258.7 170.5h0.7M258.2 177.4h0.7M258.3 174.3h0.7M260.5 169.9h0.7M264.4 167.4h0.7M262.2 172.6h0.7M259.0 176.2h0.7M264.3 168.0h0.7M260.8 174.1h0.7M262.5 170.5h0.7M261.0 174.6h0.7M261.2 173.3h0.7M262.7 170.2h0.7M261.8 172.7h0.7M265.0 168.6h0.7M264.2 168.9h0.7M262.5 170.7h0.7M257.3 177.8h0.7M257.7 172.7h0.7M263.2 170.7h0.7M260.8 168.7h0.7M259.3 176.7h0.7M255.9 175.5h0.7M262.6 170.0h0.7M259.8 171.2h0.7M260.4 174.0h0.7M259.4 171.6h0.7M263.3 173.3h0.7M257.6 173.8h0.7M266.8 171.6h0.7M256.8 173.6h0.7M262.0 172.9h0.7M260.4 171.6h0.7M255.4 175.2h0.7M262.3 169.7h0.7M263.9 170.9h0.7M256.3 172.0h0.7M262.8 172.6h0.7M263.5 168.8h0.7M260.1 177.4h0.7M259.1 174.7h0.7M258.0 173.9h0.7M257.3 173.4h0.7M266.1 172.0h0.7M263.6 172.0h0.7M262.1 171.9h0.7M264.3 172.0h0.7M262.7 172.9h0.7M261.2 172.2h0.7M263.7 174.0h0.7M256.5 171.8h0.7M261.6 168.5h0.7M257.5 173.7h0.7M262.3 168.1h0.7M260.3 173.5h0.7M262.6 171.6h0.7M258.3 172.1h0.7M254.9 177.4h0.7M264.5 171.4h0.7M259.6 172.3h0.7M263.8 169.7h0.7M257.7 175.1h0.7M263.6 171.1h0.7M258.6 171.7h0.7M263.9 166.4h0.7M257.3 175.5h0.7M258.5 172.8h0.7M259.1 171.0h0.7M252.6 174.7h0.7M258.6 174.0h0.7M262.2 171.2h0.7M257.5 171.0h0.7M262.2 172.6h0.7M261.1 174.4h0.7M256.9 175.0h0.7M261.6 171.7h0.7M258.2 176.4h0.7M255.6 171.9h0.7M261.6 173.5h0.7M264.0 169.6h0.7M259.3 174.4h0.7M263.8 170.1h0.7M265.3 169.3h0.7M258.8 174.6h0.7M258.4 173.1h0.7M261.2 170.9h0.7M261.8 173.9h0.7M259.9 174.7h0.7M261.9 174.4h0.7M258.8 175.1h0.7M258.7 174.0h0.7M264.9 170.7h0.7M256.3 175.3h0.7M262.7 170.3h0.7M261.2 168.2h0.7M263.7 170.6h0.7M264.1 173.3h0.7M260.0 174.5h0.7M261.0 169.0h0.7M259.1 170.1h0.7M257.5 171.2h0.7M255.6 176.8h0.7M263.4 171.2h0.7M260.9 172.3h0.7M261.0 172.6h0.7M257.6 174.6h0.7M260.8 174.1h0.7M261.9 168.3h0.7M255.7 176.1h0.7M259.7 172.9h0.7M260.8 173.8h0.7M260.4 172.5h0.7M260.2 169.6h0.7M260.9 175.2h0.7M255.9 173.7h0.7M259.5 174.3h0.7M256.5 175.2h0.7M260.2 174.0h0.7M259.5 171.3h0.7M262.8 170.2h0.7M260.0 175.5h0.7M262.8 168.3h0.7M264.2 168.2h0.7M261.3 171.3h0.7" stroke="#000" stroke-opacity="0.4" stroke-width="0.7" fill="none"/>
<path d="M265.5 167.9h0.7M264.7 166.7h0.7M267.9 169.5h0.7M265.5 172.7h0.7M263.2 171.4h0.7M273.1 168.2h0.7M268.4 168.7h0.7M264.6 169.3h0.7M259.3 171.0h0.7M271.5 167.0h0.7M265.3 169.8h0.7M267.6 170.0h0.7M265.9 169.0h0.7M264.4 169.8h0.7M266.5 168.4h0.7M262.4 172.2h0.7M264.2 168.5h0.7M266.3 172.5h0.7M261.5 168.4h0.7M266.6 171.8h0.7M262.7 170.9h0.7M269.9 165.4h0.7M264.4 171.0h0.7M271.5 169.2h0.7M270.4 167.4h0.7M265.8 167.7h0.7M267.0 170.8h0.7M260.8 171.9h0.7M267.1 167.0h0.7M257.4 171.1h0.7M267.4 166.6h0.7M268.0 168.6h0.7M266.8 168.8h0.7M263.5 171.0h0.7M265.9 170.6h0.7M260.9 174.3h0.7M267.1 168.5h0.7M265.8 171.8h0.7M268.1 169.6h0.7M259.1 170.0h0.7M260.9 168.1h0.7M267.2 170.1h0.7M258.2 174.2h0.7M270.1 165.8h0.7M266.3 172.6h0.7M264.3 171.0h0.7M266.9 169.6h0.7M266.6 172.3h0.7M263.5 168.4h0.7M261.0 170.3h0.7M272.7 165.9h0.7M261.2 169.7h0.7M259.7 171.8h0.7M264.2 168.4h0.7M269.2 168.2h0.7M271.1 166.0h0.7M264.0 172.3h0.7M273.1 167.5h0.7M266.8 169.7h0.7M264.0 173.3h0.7M265.1 170.4h0.7M268.6 169.6h0.7M260.6 173.8h0.7M265.4 169.6h0.7M267.8 169.7h0.7M267.2 169.1h0.7M270.7 167.9h0.7M265.9 168.9h0.7M269.3 170.0h0.7M264.0 171.1h0.7" stroke="#000" stroke-opacity="0.25" stroke-width="0.7" fill="none"/>
<ellipse cx="255.8" cy="176.0" rx="4.2" ry="6.9" transform="rotate(20 255.8 176.0)" fill="#050505" filter="url(#bl)"/>
<rect x="244.70" y="129.40" width="55.80" height="56.40" fill="none" stroke="#9a9a9a" stroke-width="1.0"/>
<rect x="260.50" y="145.60" width="29.10" height="27.70" fill="none" stroke="#a2a2a2" stroke-width="0.7"/>
<text x="271.20" y="160.30" transform="rotate(0.03 271.20 160.30)" font-size="6.9" text-anchor="start" fill="#1c1c1c" stroke="#1c1c1c" stroke-width="0.1">7.8%</text>
<path d="M246.70 186.70H299.50" stroke="#555" stroke-width="0.9" stroke-dasharray="0.7 1.3" fill="none"/>
<path d="M243.80 131.40V184.80" stroke="#777" stroke-width="0.8" stroke-dasharray="0.7 1.6" fill="none"/>
<text x="252.79" y="192.20" transform="rotate(0.03 252.79 192.20)" font-size="3.5" font-weight="bold" text-anchor="middle" fill="#000" stroke="#000" stroke-width="0.12">0</text>
<text x="261.16" y="192.20" transform="rotate(0.03 261.16 192.20)" font-size="3.5" font-weight="bold" text-anchor="middle" fill="#000" stroke="#000" stroke-width="0.12">10<tspan font-size="2.6" dy="-1.2">2</tspan></text>
<text x="273.72" y="192.20" transform="rotate(0.03 273.72 192.20)" font-size="3.5" font-weight="bold" text-anchor="middle" fill="#000" stroke="#000" stroke-width="0.12">10<tspan font-size="2.6" dy="-1.2">3</tspan></text>
<text x="285.15" y="192.20" transform="rotate(0.03 285.15 192.20)" font-size="3.5" font-weight="bold" text-anchor="middle" fill="#000" stroke="#000" stroke-width="0.12">10<tspan font-size="2.6" dy="-1.2">4</tspan></text>
<text x="296.31" y="192.20" transform="rotate(0.03 296.31 192.20)" font-size="3.5" font-weight="bold" text-anchor="middle" fill="#000" stroke="#000" stroke-width="0.12">10<tspan font-size="2.6" dy="-1.2">5</tspan></text>
<text x="241.50" y="182.32" transform="rotate(0.03 241.50 182.32)" font-size="3.5" font-weight="bold" text-anchor="end" fill="#000" stroke="#000" stroke-width="0.12">0</text>
<text x="242.30" y="170.08" transform="rotate(0.03 242.30 170.08)" font-size="3.5" font-weight="bold" text-anchor="end" fill="#000" stroke="#000" stroke-width="0.12">10<tspan font-size="2.6" dy="-1.2">2</tspan></text>
<text x="242.30" y="157.67" transform="rotate(0.03 242.30 157.67)" font-size="3.5" font-weight="bold" text-anchor="end" fill="#000" stroke="#000" stroke-width="0.12">10<tspan font-size="2.6" dy="-1.2">3</tspan></text>
<text x="242.30" y="145.72" transform="rotate(0.03 242.30 145.72)" font-size="3.5" font-weight="bold" text-anchor="end" fill="#000" stroke="#000" stroke-width="0.12">10<tspan font-size="2.6" dy="-1.2">4</tspan></text>
<text x="242.30" y="133.76" transform="rotate(0.03 242.30 133.76)" font-size="3.5" font-weight="bold" text-anchor="end" fill="#000" stroke="#000" stroke-width="0.12">10<tspan font-size="2.6" dy="-1.2">5</tspan></text>
<path d="M163.20 178.30V204.60H189.90" stroke="#000" stroke-width="1.6" fill="none"/>
<path d="M163.20 169.30l-5.4 10h10.8z" fill="#000"/>
<path d="M198.90 204.60l-10.3 -5.3v10.6z" fill="#000"/>
<text x="201.80" y="208.50" transform="rotate(0.03 201.80 208.50)" font-size="10.1" text-anchor="start" fill="#0a0a0a" stroke="#0a0a0a" stroke-width="0.16">IL10</text>
<text transform="translate(167.30,166.00) rotate(-90)" font-size="10.1" text-anchor="start" fill="#0a0a0a" stroke="#0a0a0a" stroke-width="0.16">CD25</text>
<text x="303.60" y="135.70" transform="rotate(0.03 303.60 135.70)" font-size="10.1" text-anchor="start" fill="#0a0a0a" stroke="#0a0a0a" stroke-width="0.16">Tr1</text>
<path d="M178.8 267.3h0.8M186.6 266.1h0.8M192.2 258.3h0.8M188.9 259.5h0.8M186.2 271.1h0.8M187.7 264.1h0.8M181.1 269.8h0.8M185.8 263.5h0.8M184.4 269.4h0.8M185.9 269.2h0.8M183.8 265.6h0.8M180.5 269.2h0.8M179.2 274.3h0.8M181.0 270.3h0.8M185.7 267.0h0.8M186.2 266.2h0.8M183.5 266.7h0.8M183.4 268.0h0.8M186.5 268.1h0.8M186.8 269.7h0.8M183.5 274.0h0.8M182.7 263.7h0.8M184.9 263.3h0.8M180.4 273.7h0.8M185.1 264.5h0.8M186.0 272.1h0.8M185.2 267.4h0.8M184.3 266.2h0.8M183.3 274.0h0.8M181.4 274.5h0.8M180.8 270.6h0.8M187.2 268.2h0.8M182.1 273.0h0.8M179.8 270.7h0.8M182.8 269.6h0.8M181.7 268.0h0.8M181.1 268.2h0.8M182.4 266.5h0.8M181.8 268.0h0.8M185.1 267.5h0.8M188.0 264.7h0.8M181.8 267.2h0.8M182.0 271.1h0.8M184.0 267.4h0.8M188.1 270.9h0.8M183.4 264.7h0.8M183.6 267.2h0.8M187.7 269.5h0.8M184.1 265.3h0.8M182.6 274.7h0.8M181.6 269.0h0.8M184.5 261.6h0.8M187.2 270.9h0.8M186.5 263.3h0.8M187.9 265.8h0.8M182.6 268.4h0.8M187.8 263.4h0.8M188.1 262.6h0.8M182.6 272.3h0.8M188.5 269.9h0.8M183.1 269.6h0.8M181.8 271.4h0.8M184.0 260.2h0.8M183.8 269.8h0.8M184.3 264.7h0.8M182.0 270.7h0.8M179.7 268.6h0.8M185.7 261.9h0.8M181.1 262.9h0.8M186.1 267.4h0.8M183.0 269.7h0.8M181.0 267.5h0.8M182.5 271.4h0.8M185.3 266.8h0.8M182.6 269.7h0.8M182.8 264.4h0.8M186.4 268.7h0.8M183.9 263.6h0.8M183.3 262.6h0.8M185.1 265.1h0.8M178.9 268.7h0.8M184.8 265.5h0.8M185.2 265.5h0.8M182.8 265.9h0.8M184.2 271.3h0.8M181.5 269.2h0.8M184.8 274.7h0.8M179.0 268.0h0.8M184.0 258.7h0.8M180.3 271.4h0.8M182.5 267.2h0.8M187.4 260.3h0.8M181.5 265.6h0.8M181.0 269.0h0.8M184.4 265.7h0.8M182.0 264.9h0.8M183.8 268.2h0.8M183.4 272.0h0.8M185.8 265.7h0.8M185.1 261.1h0.8M181.9 270.4h0.8M184.0 265.2h0.8M183.6 265.2h0.8M185.1 273.0h0.8M182.3 275.8h0.8M183.3 269.8h0.8M185.4 266.5h0.8M183.8 264.0h0.8M185.5 271.1h0.8M182.3 268.1h0.8M188.2 265.8h0.8M183.6 267.4h0.8M185.9 267.0h0.8M184.7 268.9h0.8M182.7 271.5h0.8M185.6 268.7h0.8M185.3 265.7h0.8M186.4 275.2h0.8M181.6 273.6h0.8M183.6 265.6h0.8M190.2 258.7h0.8M187.3 264.5h0.8M183.1 266.9h0.8M178.7 268.6h0.8M184.0 266.0h0.8M181.5 273.3h0.8M182.4 269.2h0.8M184.9 268.6h0.8M184.9 265.2h0.8M181.2 270.3h0.8M180.2 272.4h0.8M186.2 268.8h0.8M188.6 263.2h0.8M186.2 266.2h0.8M186.1 262.9h0.8M184.3 269.6h0.8M182.7 262.6h0.8M183.6 269.8h0.8M182.3 274.7h0.8M182.8 267.8h0.8M182.8 271.3h0.8M185.0 265.8h0.8M182.9 267.7h0.8M181.6 266.8h0.8M181.6 270.8h0.8M184.3 269.2h0.8M181.2 263.0h0.8M187.7 271.2h0.8M184.3 272.0h0.8M184.8 271.8h0.8M185.4 265.3h0.8M188.2 261.2h0.8M182.9 265.6h0.8M182.9 269.1h0.8M182.8 274.7h0.8M185.5 273.7h0.8M183.4 266.7h0.8M184.3 273.0h0.8M182.4 266.8h0.8M186.7 260.9h0.8M179.6 269.5h0.8M182.8 266.3h0.8M179.9 271.3h0.8M185.7 268.9h0.8M183.1 271.8h0.8M186.7 270.5h0.8M181.8 270.6h0.8M183.2 261.5h0.8M184.7 270.3h0.8M185.4 265.9h0.8M184.7 267.7h0.8M185.1 271.1h0.8M181.1 271.4h0.8M181.3 267.5h0.8M188.7 260.7h0.8M185.1 266.1h0.8M182.3 273.4h0.8M185.3 272.0h0.8M184.7 268.0h0.8M185.8 266.6h0.8M184.3 269.7h0.8M179.8 272.0h0.8M185.7 263.4h0.8M187.4 269.0h0.8M181.7 267.2h0.8M182.9 260.3h0.8M184.8 272.5h0.8M182.6 263.7h0.8M179.5 270.5h0.8M180.6 265.0h0.8M182.9 272.2h0.8M179.8 273.2h0.8M177.8 273.8h0.8M189.3 264.0h0.8M183.4 272.3h0.8M184.8 269.0h0.8M181.9 264.8h0.8M185.1 270.2h0.8M187.6 265.7h0.8M185.2 266.7h0.8M186.9 264.0h0.8M183.2 266.2h0.8M183.0 268.2h0.8M188.0 268.8h0.8M181.5 271.1h0.8M182.8 264.5h0.8M180.1 263.1h0.8M187.9 266.8h0.8M184.5 268.9h0.8M185.6 264.7h0.8M185.8 264.2h0.8M188.7 265.3h0.8M185.7 267.4h0.8M184.1 267.2h0.8M183.9 266.9h0.8M181.9 269.9h0.8M182.5 272.9h0.8M182.3 270.8h0.8M183.6 273.4h0.8M183.4 272.2h0.8M182.0 268.7h0.8M186.7 265.2h0.8M182.8 270.3h0.8M187.3 271.1h0.8M186.8 271.1h0.8M182.4 268.9h0.8M183.5 262.9h0.8M185.2 267.3h0.8M186.3 266.3h0.8M182.0 265.6h0.8M187.7 261.3h0.8M181.1 263.6h0.8M183.0 266.2h0.8M186.9 258.1h0.8M180.0 274.1h0.8M186.9 264.4h0.8M185.1 267.9h0.8M177.6 263.5h0.8M177.9 274.0h0.8M184.0 267.2h0.8M185.8 267.6h0.8M181.8 270.7h0.8M178.9 275.2h0.8M188.8 267.0h0.8M183.8 261.8h0.8M186.6 265.8h0.8M185.8 267.7h0.8M181.8 266.2h0.8M184.3 262.5h0.8M183.4 269.7h0.8M184.8 268.1h0.8M183.2 271.5h0.8M184.6 266.5h0.8M188.5 265.0h0.8M179.7 269.4h0.8M189.6 265.6h0.8M182.0 269.9h0.8M183.5 273.3h0.8M185.4 269.9h0.8M179.5 273.5h0.8M185.6 260.6h0.8M187.1 265.3h0.8M182.7 269.7h0.8M186.4 268.1h0.8M185.0 264.1h0.8M181.8 271.5h0.8M185.1 267.2h0.8M183.7 270.0h0.8M183.8 261.9h0.8M187.3 271.1h0.8M184.1 267.6h0.8M184.1 272.5h0.8M183.7 267.7h0.8M182.3 268.1h0.8M178.0 277.1h0.8M184.2 266.5h0.8M183.6 269.8h0.8M184.5 264.1h0.8" stroke="#000" stroke-opacity="0.55" stroke-width="0.8" fill="none"/>
<path d="M188.8 261.8h0.7M185.3 259.4h0.7M187.9 259.0h0.7M185.8 265.7h0.7M187.0 264.4h0.7M189.4 258.4h0.7M180.9 262.6h0.7M189.9 257.6h0.7M185.3 265.9h0.7M189.0 258.1h0.7M186.7 266.3h0.7M182.6 263.2h0.7M184.4 265.7h0.7M187.6 258.5h0.7M181.2 266.9h0.7M189.8 261.3h0.7M185.6 260.7h0.7M183.6 267.8h0.7M186.6 257.2h0.7M189.1 261.4h0.7M189.1 262.8h0.7M183.5 269.4h0.7M187.2 259.2h0.7M187.5 262.2h0.7M185.5 259.3h0.7M186.4 267.4h0.7M190.0 263.2h0.7M187.5 262.1h0.7M189.2 260.6h0.7M189.6 260.5h0.7M185.3 264.7h0.7M188.2 264.6h0.7M188.9 262.3h0.7M184.1 266.4h0.7M186.1 256.7h0.7M188.5 261.6h0.7M184.2 257.0h0.7M185.8 262.8h0.7M185.4 258.5h0.7M187.0 263.9h0.7M187.0 265.7h0.7M183.8 264.2h0.7M179.2 261.6h0.7M191.6 264.1h0.7M186.1 268.0h0.7M186.9 261.6h0.7M188.4 266.2h0.7M185.0 265.3h0.7M185.9 255.1h0.7M186.0 262.8h0.7M185.2 260.4h0.7M193.0 255.9h0.7M190.4 264.5h0.7M189.2 261.3h0.7M189.7 257.6h0.7M188.2 267.4h0.7M186.8 264.0h0.7M187.6 261.9h0.7M189.2 266.8h0.7M184.6 263.5h0.7M187.3 263.5h0.7M186.4 262.3h0.7M189.2 261.8h0.7M187.1 268.4h0.7M179.8 270.2h0.7M187.4 269.9h0.7M187.5 262.4h0.7M186.5 265.0h0.7M185.4 260.1h0.7M187.4 262.2h0.7M185.3 262.3h0.7M189.5 261.3h0.7M185.6 266.9h0.7M186.8 265.5h0.7M182.8 261.1h0.7M184.9 270.0h0.7M184.7 257.1h0.7M186.2 267.1h0.7M183.7 261.2h0.7M187.5 261.3h0.7M186.0 261.1h0.7M190.4 259.2h0.7M186.1 267.4h0.7M187.6 256.7h0.7M188.2 266.1h0.7M187.0 257.9h0.7M184.9 261.5h0.7M189.6 255.7h0.7M182.4 270.1h0.7M187.5 259.7h0.7M185.6 262.9h0.7M185.5 258.9h0.7M180.8 264.0h0.7M183.2 266.1h0.7M182.6 267.2h0.7M186.4 262.4h0.7M191.1 261.3h0.7M187.4 260.9h0.7M187.2 257.3h0.7M186.9 261.8h0.7" stroke="#000" stroke-opacity="0.3" stroke-width="0.7" fill="none"/>
<path d="M187.7 258.1h0.7M187.8 253.3h0.7M188.1 257.6h0.7M187.9 254.4h0.7M186.6 253.9h0.7M186.3 255.2h0.7M193.7 255.0h0.7M187.7 263.8h0.7M190.2 257.2h0.7M190.7 260.3h0.7M189.5 248.8h0.7M189.2 259.2h0.7M184.1 259.3h0.7M189.9 254.5h0.7M184.7 264.1h0.7M185.1 263.9h0.7M187.2 257.0h0.7M193.7 255.2h0.7M192.3 264.5h0.7M192.6 252.6h0.7M189.3 253.6h0.7M189.8 248.1h0.7M190.4 265.6h0.7M182.8 251.9h0.7M187.8 251.7h0.7M187.0 261.5h0.7M187.0 256.8h0.7M188.6 260.8h0.7M189.6 254.5h0.7M185.3 264.3h0.7M182.2 261.4h0.7M188.0 261.4h0.7M186.2 259.2h0.7M188.1 255.2h0.7M190.5 255.1h0.7M191.3 261.6h0.7M189.8 255.6h0.7M184.9 262.3h0.7M189.3 257.2h0.7M184.3 261.9h0.7M192.5 252.4h0.7M188.2 251.4h0.7M185.3 259.7h0.7M190.8 258.7h0.7M184.7 256.3h0.7M192.7 268.7h0.7M188.5 263.9h0.7M187.1 265.1h0.7M195.7 258.7h0.7M188.1 261.4h0.7" stroke="#000" stroke-opacity="0.2" stroke-width="0.7" fill="none"/>
<ellipse cx="184.2" cy="268.3" rx="4.0" ry="6.4" transform="rotate(22 184.2 268.3)" fill="#050505" filter="url(#bl)"/>
<rect x="176.40" y="222.20" width="56.70" height="56.00" fill="none" stroke="#9a9a9a" stroke-width="1.0"/>
<rect x="187.30" y="240.10" width="32.20" height="24.20" fill="none" stroke="#a2a2a2" stroke-width="0.7"/>
<text x="199.80" y="253.90" transform="rotate(0.03 199.80 253.90)" font-size="6.9" text-anchor="start" fill="#1c1c1c" stroke="#1c1c1c" stroke-width="0.1">2.7%</text>
<path d="M178.40 279.10H232.10" stroke="#555" stroke-width="0.9" stroke-dasharray="0.7 1.3" fill="none"/>
<path d="M175.50 224.20V277.20" stroke="#777" stroke-width="0.8" stroke-dasharray="0.7 1.6" fill="none"/>
<rect x="178.10" y="278.80" width="1.80" height="1.20" fill="#222"/>
<text x="180.48" y="284.60" transform="rotate(0.03 180.48 284.60)" font-size="3.5" font-weight="bold" text-anchor="middle" fill="#000" stroke="#000" stroke-width="0.12">0</text>
<text x="190.01" y="284.60" transform="rotate(0.03 190.01 284.60)" font-size="3.5" font-weight="bold" text-anchor="middle" fill="#000" stroke="#000" stroke-width="0.12">10<tspan font-size="2.6" dy="-1.2">2</tspan></text>
<text x="202.77" y="284.60" transform="rotate(0.03 202.77 284.60)" font-size="3.5" font-weight="bold" text-anchor="middle" fill="#000" stroke="#000" stroke-width="0.12">10<tspan font-size="2.6" dy="-1.2">3</tspan></text>
<text x="215.18" y="284.60" transform="rotate(0.03 215.18 284.60)" font-size="3.5" font-weight="bold" text-anchor="middle" fill="#000" stroke="#000" stroke-width="0.12">10<tspan font-size="2.6" dy="-1.2">4</tspan></text>
<text x="227.43" y="284.60" transform="rotate(0.03 227.43 284.60)" font-size="3.5" font-weight="bold" text-anchor="middle" fill="#000" stroke="#000" stroke-width="0.12">10<tspan font-size="2.6" dy="-1.2">5</tspan></text>
<text x="173.20" y="276.32" transform="rotate(0.03 173.20 276.32)" font-size="3.5" font-weight="bold" text-anchor="end" fill="#000" stroke="#000" stroke-width="0.12">0</text>
<text x="174.00" y="266.80" transform="rotate(0.03 174.00 266.80)" font-size="3.5" font-weight="bold" text-anchor="end" fill="#000" stroke="#000" stroke-width="0.12">10<tspan font-size="2.6" dy="-1.2">2</tspan></text>
<text x="174.00" y="253.30" transform="rotate(0.03 174.00 253.30)" font-size="3.5" font-weight="bold" text-anchor="end" fill="#000" stroke="#000" stroke-width="0.12">10<tspan font-size="2.6" dy="-1.2">3</tspan></text>
<text x="174.00" y="240.20" transform="rotate(0.03 174.00 240.20)" font-size="3.5" font-weight="bold" text-anchor="end" fill="#000" stroke="#000" stroke-width="0.12">10<tspan font-size="2.6" dy="-1.2">4</tspan></text>
<text x="174.00" y="226.48" transform="rotate(0.03 174.00 226.48)" font-size="3.5" font-weight="bold" text-anchor="end" fill="#000" stroke="#000" stroke-width="0.12">10<tspan font-size="2.6" dy="-1.2">5</tspan></text>
<path d="M248.4 270.5h0.8M251.1 260.6h0.8M251.3 261.1h0.8M248.2 268.9h0.8M249.6 273.2h0.8M259.1 260.5h0.8M251.2 269.1h0.8M249.3 271.7h0.8M252.9 266.4h0.8M250.3 266.7h0.8M247.8 268.6h0.8M250.2 265.8h0.8M249.7 267.6h0.8M251.8 262.7h0.8M249.0 265.0h0.8M248.4 269.6h0.8M250.9 266.2h0.8M250.2 264.2h0.8M249.0 263.2h0.8M246.5 270.3h0.8M251.8 265.9h0.8M251.2 263.3h0.8M248.8 266.6h0.8M253.0 265.7h0.8M248.7 272.3h0.8M251.6 268.9h0.8M256.2 260.1h0.8M247.6 270.6h0.8M254.1 261.7h0.8M248.3 265.5h0.8M249.5 260.4h0.8M249.3 266.0h0.8M251.9 267.4h0.8M250.3 263.3h0.8M251.7 266.2h0.8M251.6 260.1h0.8M252.7 263.5h0.8M251.3 271.7h0.8M250.9 268.4h0.8M252.3 267.6h0.8M251.6 269.7h0.8M252.6 267.7h0.8M250.5 265.1h0.8M249.9 267.6h0.8M253.0 258.8h0.8M246.5 273.7h0.8M252.1 262.4h0.8M249.5 267.6h0.8M250.2 259.6h0.8M250.1 271.5h0.8M247.1 274.4h0.8M253.6 265.8h0.8M255.0 261.0h0.8M251.5 264.0h0.8M252.4 262.3h0.8M248.4 270.8h0.8M249.4 267.7h0.8M250.0 271.7h0.8M249.0 262.3h0.8M255.4 265.7h0.8M251.5 266.4h0.8M248.7 266.2h0.8M250.4 261.4h0.8M251.6 267.2h0.8M252.5 267.8h0.8M252.6 262.9h0.8M246.6 271.2h0.8M251.3 263.8h0.8M251.0 266.7h0.8M249.8 268.7h0.8M250.6 270.6h0.8M252.1 266.8h0.8M251.8 267.7h0.8M251.5 265.8h0.8M252.6 263.7h0.8M252.7 265.7h0.8M250.5 268.0h0.8M247.8 269.9h0.8M253.1 262.2h0.8M248.7 267.7h0.8M252.3 270.2h0.8M251.4 265.2h0.8M252.3 264.6h0.8M255.1 264.4h0.8M253.5 260.2h0.8M250.8 270.7h0.8M253.7 264.4h0.8M251.8 264.3h0.8M252.8 261.7h0.8M247.4 274.6h0.8M250.9 266.7h0.8M252.4 265.9h0.8M250.2 260.4h0.8M253.7 260.3h0.8M253.0 267.6h0.8M250.4 267.4h0.8M248.1 272.1h0.8M251.0 270.8h0.8M251.8 264.3h0.8M250.1 268.6h0.8M252.0 264.2h0.8M251.4 270.5h0.8M246.9 263.2h0.8M249.1 269.5h0.8M246.5 273.3h0.8M248.9 265.7h0.8M249.7 269.5h0.8M248.8 270.0h0.8M247.0 269.2h0.8M253.3 264.1h0.8M249.4 263.8h0.8M251.7 269.5h0.8M249.3 270.2h0.8M250.5 263.0h0.8M249.0 268.9h0.8M250.9 270.8h0.8M249.5 265.9h0.8M253.2 271.1h0.8M252.2 266.6h0.8M253.5 262.3h0.8M255.1 262.1h0.8M249.7 270.6h0.8M247.3 267.9h0.8M251.8 263.2h0.8M251.4 271.4h0.8M249.7 268.6h0.8M251.0 264.1h0.8M253.8 263.2h0.8M245.9 274.6h0.8M245.7 273.8h0.8M247.9 268.6h0.8M250.1 263.6h0.8M253.1 266.4h0.8M252.7 265.1h0.8M251.6 261.5h0.8M248.0 269.5h0.8M254.1 266.6h0.8M251.1 266.1h0.8M249.7 272.3h0.8M249.0 271.7h0.8M253.1 264.0h0.8M252.2 269.7h0.8M251.7 265.5h0.8M253.0 267.4h0.8M252.4 260.7h0.8M254.7 266.6h0.8M248.0 274.2h0.8M252.8 263.1h0.8M251.4 269.3h0.8M253.5 259.1h0.8M250.5 267.5h0.8M253.3 262.9h0.8M253.7 265.7h0.8M251.4 267.5h0.8M249.3 269.1h0.8M250.0 265.8h0.8M249.9 267.4h0.8M248.8 272.8h0.8M253.8 267.5h0.8M254.7 260.2h0.8M249.7 267.8h0.8M250.2 269.4h0.8M253.4 265.0h0.8M252.8 267.4h0.8M249.0 263.8h0.8M250.0 271.3h0.8M250.2 263.8h0.8M250.2 269.8h0.8M252.0 262.4h0.8M250.1 268.5h0.8M249.8 258.6h0.8M250.2 261.4h0.8M250.3 265.9h0.8M246.0 270.4h0.8M250.7 268.0h0.8M249.7 272.4h0.8M247.2 269.4h0.8M249.2 268.6h0.8M250.2 269.1h0.8M248.9 262.1h0.8M248.1 270.9h0.8M249.9 271.5h0.8M248.4 266.0h0.8M252.7 264.7h0.8M258.0 257.8h0.8M253.4 267.3h0.8M253.1 259.1h0.8M249.7 261.6h0.8M248.8 272.4h0.8M250.5 269.8h0.8M252.1 269.5h0.8M250.8 273.5h0.8M250.5 263.5h0.8M250.0 266.5h0.8M253.1 268.6h0.8M247.7 269.2h0.8M251.2 267.3h0.8M248.4 264.8h0.8M248.0 270.2h0.8M250.5 264.6h0.8M249.6 270.7h0.8M255.2 265.9h0.8M252.4 265.9h0.8M249.5 268.1h0.8M250.0 266.4h0.8M250.8 270.1h0.8M249.7 259.8h0.8M254.8 261.2h0.8M251.1 267.6h0.8M253.8 265.8h0.8M248.7 266.3h0.8M248.4 271.6h0.8M253.9 269.6h0.8M250.5 266.7h0.8M251.2 271.4h0.8M250.1 268.6h0.8M255.0 259.8h0.8M248.9 265.5h0.8M252.1 266.1h0.8M250.1 268.4h0.8M247.1 272.2h0.8M252.7 260.3h0.8M254.8 264.6h0.8M252.0 273.9h0.8M250.0 271.8h0.8M252.5 271.0h0.8M248.2 272.8h0.8M251.5 263.4h0.8M248.5 262.7h0.8M251.0 269.5h0.8M251.4 266.3h0.8M252.5 264.2h0.8M255.6 258.7h0.8M249.2 265.6h0.8M252.3 268.9h0.8M248.9 271.2h0.8M250.1 263.2h0.8M249.3 267.8h0.8M252.3 262.3h0.8M251.3 269.9h0.8M255.6 259.7h0.8M253.7 258.8h0.8M253.8 262.8h0.8M251.7 263.9h0.8M247.2 267.2h0.8M248.4 267.5h0.8M248.3 266.6h0.8M249.5 259.5h0.8M251.0 264.9h0.8M248.6 269.7h0.8M250.5 268.1h0.8M249.6 270.8h0.8" stroke="#000" stroke-opacity="0.55" stroke-width="0.8" fill="none"/>
<path d="M256.2 261.7h0.7M252.7 262.3h0.7M252.8 263.1h0.7M253.4 263.8h0.7M254.0 263.4h0.7M251.8 262.8h0.7M253.9 264.4h0.7M253.7 262.1h0.7M255.4 261.0h0.7M255.1 260.9h0.7M253.4 263.6h0.7M255.8 261.9h0.7M254.5 261.1h0.7M256.6 259.3h0.7M253.0 263.2h0.7M255.7 263.4h0.7M251.8 262.5h0.7M253.2 263.9h0.7M256.3 260.4h0.7M256.5 261.5h0.7M253.9 262.8h0.7M255.2 264.5h0.7M253.0 261.7h0.7M252.8 262.9h0.7M254.8 261.1h0.7M253.5 264.1h0.7M259.9 260.3h0.7M258.2 262.6h0.7M254.8 262.1h0.7M258.6 257.1h0.7M256.6 262.4h0.7M252.8 263.9h0.7M253.4 262.2h0.7M252.8 263.2h0.7M257.7 258.4h0.7M250.5 265.3h0.7M253.7 260.6h0.7M253.8 259.7h0.7M255.3 259.6h0.7M252.7 263.3h0.7M256.7 260.1h0.7M250.5 264.4h0.7M254.9 260.9h0.7M253.1 260.2h0.7M254.8 259.8h0.7M255.4 261.4h0.7M253.8 264.0h0.7M256.4 260.0h0.7M256.5 261.5h0.7M252.3 263.6h0.7M253.8 262.3h0.7M256.6 262.2h0.7M253.5 261.5h0.7M256.5 257.9h0.7M255.7 262.6h0.7M252.3 264.2h0.7M254.7 261.6h0.7M254.4 262.9h0.7M254.1 262.3h0.7M255.8 261.2h0.7M252.8 264.5h0.7M257.7 260.5h0.7M254.1 262.2h0.7M257.0 261.2h0.7M254.9 262.1h0.7M255.8 262.8h0.7M255.0 260.3h0.7M257.1 259.9h0.7M255.2 259.5h0.7M256.1 259.3h0.7M251.9 264.8h0.7M256.3 261.5h0.7M253.6 263.8h0.7M257.7 262.1h0.7M254.8 263.8h0.7M254.2 259.0h0.7M259.8 260.1h0.7M252.3 260.8h0.7M252.7 265.4h0.7M255.3 263.1h0.7" stroke="#000" stroke-opacity="0.45" stroke-width="0.7" fill="none"/>
<path d="M255.0 260.3h0.7M256.2 261.7h0.7M257.8 260.6h0.7M259.5 259.9h0.7M260.3 258.8h0.7M260.7 258.7h0.7M257.7 260.0h0.7M257.6 261.8h0.7M255.5 260.4h0.7M253.4 262.3h0.7M255.3 261.2h0.7M255.7 260.8h0.7M257.2 261.0h0.7M256.0 262.8h0.7M257.7 261.5h0.7M257.0 260.3h0.7M259.4 259.4h0.7M260.1 261.0h0.7M258.7 258.8h0.7M258.2 261.2h0.7M258.2 260.7h0.7M256.4 259.9h0.7M257.2 261.5h0.7M256.3 259.2h0.7M256.0 260.3h0.7M257.8 259.4h0.7M257.0 261.4h0.7M256.4 261.7h0.7M262.1 259.1h0.7M257.0 259.6h0.7" stroke="#000" stroke-opacity="0.35" stroke-width="0.7" fill="none"/>
<ellipse cx="250.4" cy="267.3" rx="3.6" ry="6.8" transform="rotate(25 250.4 267.3)" fill="#050505" filter="url(#bl)"/>
<rect x="244.60" y="222.20" width="56.00" height="56.00" fill="none" stroke="#9a9a9a" stroke-width="1.0"/>
<rect x="253.80" y="240.00" width="31.80" height="24.30" fill="none" stroke="#a2a2a2" stroke-width="0.7"/>
<text x="266.20" y="253.90" transform="rotate(0.03 266.20 253.90)" font-size="6.9" text-anchor="start" fill="#1c1c1c" stroke="#1c1c1c" stroke-width="0.1">5.4%</text>
<path d="M246.60 279.10H299.60" stroke="#555" stroke-width="0.9" stroke-dasharray="0.7 1.3" fill="none"/>
<path d="M243.70 224.20V277.20" stroke="#777" stroke-width="0.8" stroke-dasharray="0.7 1.6" fill="none"/>
<rect x="245.70" y="278.80" width="1.80" height="1.20" fill="#222"/>
<text x="247.85" y="284.60" transform="rotate(0.03 247.85 284.60)" font-size="3.5" font-weight="bold" text-anchor="middle" fill="#000" stroke="#000" stroke-width="0.12">0</text>
<text x="257.59" y="284.60" transform="rotate(0.03 257.59 284.60)" font-size="3.5" font-weight="bold" text-anchor="middle" fill="#000" stroke="#000" stroke-width="0.12">10<tspan font-size="2.6" dy="-1.2">2</tspan></text>
<text x="269.91" y="284.60" transform="rotate(0.03 269.91 284.60)" font-size="3.5" font-weight="bold" text-anchor="middle" fill="#000" stroke="#000" stroke-width="0.12">10<tspan font-size="2.6" dy="-1.2">3</tspan></text>
<text x="282.68" y="284.60" transform="rotate(0.03 282.68 284.60)" font-size="3.5" font-weight="bold" text-anchor="middle" fill="#000" stroke="#000" stroke-width="0.12">10<tspan font-size="2.6" dy="-1.2">4</tspan></text>
<text x="295.39" y="284.60" transform="rotate(0.03 295.39 284.60)" font-size="3.5" font-weight="bold" text-anchor="middle" fill="#000" stroke="#000" stroke-width="0.12">10<tspan font-size="2.6" dy="-1.2">5</tspan></text>
<text x="241.40" y="276.32" transform="rotate(0.03 241.40 276.32)" font-size="3.5" font-weight="bold" text-anchor="end" fill="#000" stroke="#000" stroke-width="0.12">0</text>
<text x="242.20" y="266.80" transform="rotate(0.03 242.20 266.80)" font-size="3.5" font-weight="bold" text-anchor="end" fill="#000" stroke="#000" stroke-width="0.12">10<tspan font-size="2.6" dy="-1.2">2</tspan></text>
<text x="242.20" y="253.30" transform="rotate(0.03 242.20 253.30)" font-size="3.5" font-weight="bold" text-anchor="end" fill="#000" stroke="#000" stroke-width="0.12">10<tspan font-size="2.6" dy="-1.2">3</tspan></text>
<text x="242.20" y="240.20" transform="rotate(0.03 242.20 240.20)" font-size="3.5" font-weight="bold" text-anchor="end" fill="#000" stroke="#000" stroke-width="0.12">10<tspan font-size="2.6" dy="-1.2">4</tspan></text>
<text x="242.20" y="226.48" transform="rotate(0.03 242.20 226.48)" font-size="3.5" font-weight="bold" text-anchor="end" fill="#000" stroke="#000" stroke-width="0.12">10<tspan font-size="2.6" dy="-1.2">5</tspan></text>
<path d="M163.20 268.30V294.60H189.90" stroke="#000" stroke-width="1.6" fill="none"/>
<path d="M163.20 259.30l-5.4 10h10.8z" fill="#000"/>
<path d="M198.90 294.60l-10.3 -5.3v10.6z" fill="#000"/>
<text x="201.90" y="298.40" transform="rotate(0.03 201.90 298.40)" font-size="10.1" text-anchor="start" fill="#0a0a0a" stroke="#0a0a0a" stroke-width="0.16">FOXP3</text>
<text transform="translate(167.30,256.40) rotate(-90)" font-size="10.1" text-anchor="start" fill="#0a0a0a" stroke="#0a0a0a" stroke-width="0.16">TGFβ</text>
<text x="304.40" y="229.60" transform="rotate(0.03 304.40 229.60)" font-size="10.1" text-anchor="start" fill="#0a0a0a" stroke="#0a0a0a" stroke-width="0.16">Th3</text>
<line x1="42.60" y1="157.50" x2="42.60" y2="267.00" stroke="#111" stroke-width="1.5" stroke-linecap="butt"/>
<line x1="41.90" y1="266.30" x2="124.40" y2="266.30" stroke="#111" stroke-width="1.5" stroke-linecap="butt"/>
<line x1="39.20" y1="158.10" x2="42.60" y2="158.10" stroke="#111" stroke-width="1.1" stroke-linecap="butt"/>
<text x="37.00" y="161.50" transform="rotate(0.03 37.00 161.50)" font-size="9.7" text-anchor="end" fill="#0a0a0a" stroke="#0a0a0a" stroke-width="0.16">100</text>
<line x1="39.20" y1="194.17" x2="42.60" y2="194.17" stroke="#111" stroke-width="1.1" stroke-linecap="butt"/>
<text x="37.00" y="197.57" transform="rotate(0.03 37.00 197.57)" font-size="9.7" text-anchor="end" fill="#0a0a0a" stroke="#0a0a0a" stroke-width="0.16">10</text>
<line x1="39.20" y1="230.23" x2="42.60" y2="230.23" stroke="#111" stroke-width="1.1" stroke-linecap="butt"/>
<text x="37.00" y="233.63" transform="rotate(0.03 37.00 233.63)" font-size="9.7" text-anchor="end" fill="#0a0a0a" stroke="#0a0a0a" stroke-width="0.16">1</text>
<line x1="39.20" y1="266.30" x2="42.60" y2="266.30" stroke="#111" stroke-width="1.1" stroke-linecap="butt"/>
<text x="37.00" y="269.70" transform="rotate(0.03 37.00 269.70)" font-size="9.7" text-anchor="end" fill="#0a0a0a" stroke="#0a0a0a" stroke-width="0.16">0.1</text>
<line x1="43.30" y1="230.23" x2="121.00" y2="230.23" stroke="#b5b5b5" stroke-width="0.8" stroke-linecap="butt"/>
<rect x="58.15" y="204.80" width="2.10" height="2.00" fill="#0a0a0a"/>
<rect x="58.15" y="206.50" width="2.10" height="2.00" fill="#0a0a0a"/>
<rect x="58.15" y="208.20" width="2.10" height="2.00" fill="#0a0a0a"/>
<rect x="58.15" y="209.90" width="2.10" height="2.00" fill="#0a0a0a"/>
<rect x="58.15" y="211.40" width="2.10" height="2.00" fill="#0a0a0a"/>
<rect x="58.15" y="213.60" width="2.10" height="2.00" fill="#0a0a0a"/>
<rect x="58.15" y="216.00" width="2.10" height="2.00" fill="#0a0a0a"/>
<rect x="58.15" y="218.60" width="2.10" height="2.00" fill="#0a0a0a"/>
<rect x="58.15" y="220.30" width="2.10" height="2.00" fill="#0a0a0a"/>
<rect x="58.15" y="222.00" width="2.10" height="2.00" fill="#0a0a0a"/>
<rect x="58.15" y="223.70" width="2.10" height="2.00" fill="#0a0a0a"/>
<rect x="58.15" y="225.40" width="2.10" height="2.00" fill="#0a0a0a"/>
<rect x="58.15" y="227.10" width="2.10" height="2.00" fill="#0a0a0a"/>
<rect x="58.15" y="228.70" width="2.10" height="2.00" fill="#0a0a0a"/>
<rect x="58.15" y="230.60" width="2.10" height="2.00" fill="#0a0a0a"/>
<rect x="58.15" y="232.60" width="2.10" height="2.00" fill="#0a0a0a"/>
<rect x="58.15" y="236.20" width="2.10" height="2.00" fill="#0a0a0a"/>
<rect x="58.15" y="239.00" width="2.10" height="2.00" fill="#0a0a0a"/>
<rect x="79.45" y="201.50" width="2.10" height="2.00" fill="#0a0a0a"/>
<rect x="79.45" y="205.80" width="2.10" height="2.00" fill="#0a0a0a"/>
<rect x="79.45" y="207.70" width="2.10" height="2.00" fill="#0a0a0a"/>
<rect x="79.45" y="209.60" width="2.10" height="2.00" fill="#0a0a0a"/>
<rect x="79.45" y="213.50" width="2.10" height="2.00" fill="#0a0a0a"/>
<rect x="79.45" y="216.20" width="2.10" height="2.00" fill="#0a0a0a"/>
<rect x="79.45" y="220.40" width="2.10" height="2.00" fill="#0a0a0a"/>
<rect x="79.45" y="222.10" width="2.10" height="2.00" fill="#0a0a0a"/>
<rect x="79.45" y="223.90" width="2.10" height="2.00" fill="#0a0a0a"/>
<rect x="79.45" y="225.60" width="2.10" height="2.00" fill="#0a0a0a"/>
<rect x="79.45" y="227.30" width="2.10" height="2.00" fill="#0a0a0a"/>
<rect x="79.45" y="228.90" width="2.10" height="2.00" fill="#0a0a0a"/>
<rect x="79.45" y="230.60" width="2.10" height="2.00" fill="#0a0a0a"/>
<rect x="79.45" y="236.00" width="2.10" height="2.00" fill="#0a0a0a"/>
<rect x="79.45" y="238.00" width="2.10" height="2.00" fill="#0a0a0a"/>
<rect x="79.45" y="240.20" width="2.10" height="2.00" fill="#0a0a0a"/>
<rect x="79.45" y="242.40" width="2.10" height="2.00" fill="#0a0a0a"/>
<rect x="101.05" y="178.20" width="2.10" height="2.00" fill="#0a0a0a"/>
<rect x="101.05" y="183.40" width="2.10" height="2.00" fill="#0a0a0a"/>
<rect x="101.05" y="187.40" width="2.10" height="2.00" fill="#0a0a0a"/>
<rect x="101.05" y="189.30" width="2.10" height="2.00" fill="#0a0a0a"/>
<rect x="101.05" y="191.20" width="2.10" height="2.00" fill="#0a0a0a"/>
<rect x="101.05" y="193.20" width="2.10" height="2.00" fill="#0a0a0a"/>
<rect x="101.05" y="195.00" width="2.10" height="2.00" fill="#0a0a0a"/>
<rect x="101.05" y="199.20" width="2.10" height="2.00" fill="#0a0a0a"/>
<rect x="101.05" y="201.40" width="2.10" height="2.00" fill="#0a0a0a"/>
<rect x="101.05" y="205.50" width="2.10" height="2.00" fill="#0a0a0a"/>
<rect x="101.05" y="210.20" width="2.10" height="2.00" fill="#0a0a0a"/>
<rect x="101.05" y="213.50" width="2.10" height="2.00" fill="#0a0a0a"/>
<rect x="101.05" y="216.00" width="2.10" height="2.00" fill="#0a0a0a"/>
<rect x="101.05" y="219.20" width="2.10" height="2.00" fill="#0a0a0a"/>
<rect x="101.05" y="221.20" width="2.10" height="2.00" fill="#0a0a0a"/>
<rect x="101.05" y="224.60" width="2.10" height="2.00" fill="#0a0a0a"/>
<rect x="101.05" y="226.50" width="2.10" height="2.00" fill="#0a0a0a"/>
<rect x="101.05" y="230.40" width="2.10" height="2.00" fill="#0a0a0a"/>
<rect x="101.05" y="234.70" width="2.10" height="2.00" fill="#0a0a0a"/>
<rect x="101.05" y="251.90" width="2.10" height="2.00" fill="#0a0a0a"/>
<text x="59.30" y="176.50" transform="rotate(0.03 59.30 176.50)" font-size="13.2" text-anchor="middle" fill="#0a0a0a" stroke="#0a0a0a" stroke-width="0.16">***</text>
<text x="80.60" y="176.50" transform="rotate(0.03 80.60 176.50)" font-size="13.2" text-anchor="middle" fill="#0a0a0a" stroke="#0a0a0a" stroke-width="0.16">**</text>
<text x="102.10" y="176.50" transform="rotate(0.03 102.10 176.50)" font-size="13.2" text-anchor="middle" fill="#0a0a0a" stroke="#0a0a0a" stroke-width="0.16">***</text>
<text transform="translate(13.70,213.30) rotate(-90)" font-size="10.45" text-anchor="middle" fill="#0a0a0a" stroke="#0a0a0a" stroke-width="0.16">fold increase</text>
<text transform="translate(61.90,278.60) rotate(-45)" font-size="10.2" text-anchor="end" fill="#0a0a0a" stroke="#0a0a0a" stroke-width="0.16">nTreg</text>
<text transform="translate(82.80,278.40) rotate(-45)" font-size="10.2" text-anchor="end" fill="#0a0a0a" stroke="#0a0a0a" stroke-width="0.16">Tr1</text>
<text transform="translate(106.50,278.20) rotate(-45)" font-size="10.2" text-anchor="end" fill="#0a0a0a" stroke="#0a0a0a" stroke-width="0.16">Th3</text>
<line x1="438.80" y1="51.10" x2="438.80" y2="60.10" stroke="#0a0a0a" stroke-width="1.15" stroke-linecap="butt"/>
<line x1="433.70" y1="51.10" x2="443.90" y2="51.10" stroke="#0a0a0a" stroke-width="1.5" stroke-linecap="butt"/>
<rect x="430.70" y="59.60" width="16.20" height="65.30" fill="#000"/>
<line x1="465.10" y1="95.00" x2="465.10" y2="98.70" stroke="#0a0a0a" stroke-width="1.15" stroke-linecap="butt"/>
<line x1="460.00" y1="95.00" x2="470.20" y2="95.00" stroke="#0a0a0a" stroke-width="1.5" stroke-linecap="butt"/>
<rect x="457.00" y="98.20" width="16.20" height="26.70" fill="#000"/>
<line x1="492.30" y1="101.20" x2="492.30" y2="107.00" stroke="#0a0a0a" stroke-width="1.15" stroke-linecap="butt"/>
<line x1="487.20" y1="101.20" x2="497.40" y2="101.20" stroke="#0a0a0a" stroke-width="1.5" stroke-linecap="butt"/>
<rect x="484.20" y="106.50" width="16.20" height="18.40" fill="#000"/>
<line x1="420.10" y1="52.90" x2="420.10" y2="125.40" stroke="#555" stroke-width="1.0" stroke-linecap="butt"/>
<line x1="419.60" y1="124.90" x2="507.50" y2="124.90" stroke="#333" stroke-width="1.1" stroke-linecap="butt"/>
<line x1="417.90" y1="53.40" x2="420.10" y2="53.40" stroke="#555" stroke-width="0.9" stroke-linecap="butt"/>
<text x="416.40" y="56.80" transform="rotate(0.03 416.40 56.80)" font-size="9.8" text-anchor="end" fill="#0a0a0a" stroke="#0a0a0a" stroke-width="0.16">120</text>
<line x1="417.90" y1="89.20" x2="420.10" y2="89.20" stroke="#555" stroke-width="0.9" stroke-linecap="butt"/>
<text x="416.40" y="92.60" transform="rotate(0.03 416.40 92.60)" font-size="9.8" text-anchor="end" fill="#0a0a0a" stroke="#0a0a0a" stroke-width="0.16">60</text>
<line x1="417.90" y1="124.90" x2="420.10" y2="124.90" stroke="#555" stroke-width="0.9" stroke-linecap="butt"/>
<text x="416.40" y="128.30" transform="rotate(0.03 416.40 128.30)" font-size="9.8" text-anchor="end" fill="#0a0a0a" stroke="#0a0a0a" stroke-width="0.16">0</text>
<text x="465.10" y="96.60" transform="rotate(0.03 465.10 96.60)" font-size="13.2" text-anchor="middle" fill="#0a0a0a" stroke="#0a0a0a" stroke-width="0.16">***</text>
<text x="492.30" y="102.60" transform="rotate(0.03 492.30 102.60)" font-size="13.2" text-anchor="middle" fill="#0a0a0a" stroke="#0a0a0a" stroke-width="0.16">***</text>
<text transform="translate(443.00,133.80) rotate(-45)" font-size="10.4" text-anchor="end" fill="#0a0a0a" stroke="#0a0a0a" stroke-width="0.16">nTreg</text>
<text transform="translate(466.80,133.70) rotate(-45)" font-size="10.4" text-anchor="end" fill="#0a0a0a" stroke="#0a0a0a" stroke-width="0.16">Tr1</text>
<text transform="translate(494.20,133.70) rotate(-45)" font-size="10.4" text-anchor="end" fill="#0a0a0a" stroke="#0a0a0a" stroke-width="0.16">Th3</text>
<text transform="translate(378.00,83.40) rotate(-90)" font-size="10.5" text-anchor="middle" fill="#0a0a0a" stroke="#0a0a0a" stroke-width="0.16">% of cells</text>
<text transform="translate(391.00,131.60) rotate(-90)" font-size="10.45" fill="#0a0a0a" stroke="#0a0a0a" stroke-width="0.16">normalized to MSC<tspan font-size="4.7" dy="1.6" fill="#555" stroke="none">untr</tspan></text>
<line x1="441.40" y1="185.80" x2="441.40" y2="204.00" stroke="#0a0a0a" stroke-width="1.15" stroke-linecap="butt"/>
<line x1="436.10" y1="185.80" x2="446.70" y2="185.80" stroke="#0a0a0a" stroke-width="1.5" stroke-linecap="butt"/>
<rect x="433.50" y="203.50" width="15.80" height="62.70" fill="#000"/>
<line x1="468.40" y1="199.00" x2="468.40" y2="220.50" stroke="#0a0a0a" stroke-width="1.15" stroke-linecap="butt"/>
<line x1="463.10" y1="199.00" x2="473.70" y2="199.00" stroke="#0a0a0a" stroke-width="1.5" stroke-linecap="butt"/>
<rect x="460.50" y="220.00" width="15.80" height="46.20" fill="#000"/>
<line x1="494.65" y1="238.90" x2="494.65" y2="248.50" stroke="#0a0a0a" stroke-width="1.15" stroke-linecap="butt"/>
<line x1="489.35" y1="238.90" x2="499.95" y2="238.90" stroke="#0a0a0a" stroke-width="1.5" stroke-linecap="butt"/>
<rect x="486.60" y="248.00" width="16.10" height="18.20" fill="#000"/>
<line x1="422.40" y1="193.80" x2="422.40" y2="266.70" stroke="#555" stroke-width="1.0" stroke-linecap="butt"/>
<line x1="421.90" y1="266.20" x2="510.30" y2="266.20" stroke="#333" stroke-width="1.1" stroke-linecap="butt"/>
<line x1="420.20" y1="194.30" x2="422.40" y2="194.30" stroke="#555" stroke-width="0.9" stroke-linecap="butt"/>
<text x="418.70" y="197.70" transform="rotate(0.03 418.70 197.70)" font-size="9.8" text-anchor="end" fill="#0a0a0a" stroke="#0a0a0a" stroke-width="0.16">100</text>
<line x1="420.20" y1="233.20" x2="422.40" y2="233.20" stroke="#555" stroke-width="0.9" stroke-linecap="butt"/>
<text x="418.70" y="236.60" transform="rotate(0.03 418.70 236.60)" font-size="9.8" text-anchor="end" fill="#0a0a0a" stroke="#0a0a0a" stroke-width="0.16">50</text>
<line x1="420.20" y1="266.20" x2="422.40" y2="266.20" stroke="#555" stroke-width="0.9" stroke-linecap="butt"/>
<text x="418.70" y="269.60" transform="rotate(0.03 418.70 269.60)" font-size="9.8" text-anchor="end" fill="#0a0a0a" stroke="#0a0a0a" stroke-width="0.16">0</text>
<text x="468.40" y="200.00" transform="rotate(0.03 468.40 200.00)" font-size="13.2" text-anchor="middle" fill="#0a0a0a" stroke="#0a0a0a" stroke-width="0.16">**</text>
<text x="494.60" y="240.00" transform="rotate(0.03 494.60 240.00)" font-size="13.2" text-anchor="middle" fill="#0a0a0a" stroke="#0a0a0a" stroke-width="0.16">***</text>
<text transform="translate(447.30,275.20) rotate(-45)" font-size="10.4" text-anchor="end" fill="#0a0a0a" stroke="#0a0a0a" stroke-width="0.16">FOXP3</text>
<text transform="translate(473.10,275.40) rotate(-45)" font-size="10.4" text-anchor="end" fill="#0a0a0a" stroke="#0a0a0a" stroke-width="0.16">IL10</text>
<text transform="translate(500.40,275.20) rotate(-45)" font-size="10.4" text-anchor="end" fill="#0a0a0a" stroke="#0a0a0a" stroke-width="0.16">TGFβ</text>
<text transform="translate(381.50,234.70) rotate(-90)" font-size="10.4" text-anchor="middle" fill="#0a0a0a" stroke="#0a0a0a" stroke-width="0.16">% relative gene expression</text>
<text transform="translate(393.00,284.00) rotate(-90)" font-size="10.45" fill="#0a0a0a" stroke="#0a0a0a" stroke-width="0.16">normalized to MSC<tspan font-size="4.7" dy="1.6" fill="#555" stroke="none">untr</tspan></text>
<line x1="71.95" y1="366.60" x2="71.95" y2="373.80" stroke="#0a0a0a" stroke-width="1.15" stroke-linecap="butt"/>
<line x1="66.85" y1="366.60" x2="77.05" y2="366.60" stroke="#0a0a0a" stroke-width="1.5" stroke-linecap="butt"/>
<rect x="64.00" y="373.30" width="15.90" height="53.60" fill="#000"/>
<line x1="98.25" y1="378.30" x2="98.25" y2="389.90" stroke="#0a0a0a" stroke-width="1.15" stroke-linecap="butt"/>
<line x1="93.15" y1="378.30" x2="103.35" y2="378.30" stroke="#0a0a0a" stroke-width="1.5" stroke-linecap="butt"/>
<rect x="90.30" y="389.40" width="15.90" height="37.50" fill="#000"/>
<line x1="126.15" y1="384.20" x2="126.15" y2="400.90" stroke="#0a0a0a" stroke-width="1.15" stroke-linecap="butt"/>
<line x1="121.05" y1="384.20" x2="131.25" y2="384.20" stroke="#0a0a0a" stroke-width="1.5" stroke-linecap="butt"/>
<rect x="118.20" y="400.40" width="15.90" height="26.50" fill="#000"/>
<line x1="53.50" y1="354.90" x2="53.50" y2="427.40" stroke="#555" stroke-width="1.0" stroke-linecap="butt"/>
<line x1="53.00" y1="426.90" x2="142.00" y2="426.90" stroke="#333" stroke-width="1.1" stroke-linecap="butt"/>
<line x1="51.30" y1="355.40" x2="53.50" y2="355.40" stroke="#555" stroke-width="0.9" stroke-linecap="butt"/>
<text x="49.80" y="358.80" transform="rotate(0.03 49.80 358.80)" font-size="9.8" text-anchor="end" fill="#0a0a0a" stroke="#0a0a0a" stroke-width="0.16">120</text>
<line x1="51.30" y1="391.20" x2="53.50" y2="391.20" stroke="#555" stroke-width="0.9" stroke-linecap="butt"/>
<text x="49.80" y="394.60" transform="rotate(0.03 49.80 394.60)" font-size="9.8" text-anchor="end" fill="#0a0a0a" stroke="#0a0a0a" stroke-width="0.16">60</text>
<line x1="51.30" y1="427.20" x2="53.50" y2="427.20" stroke="#555" stroke-width="0.9" stroke-linecap="butt"/>
<text x="49.80" y="430.60" transform="rotate(0.03 49.80 430.60)" font-size="9.8" text-anchor="end" fill="#0a0a0a" stroke="#0a0a0a" stroke-width="0.16">0</text>
<text x="98.20" y="379.60" transform="rotate(0.03 98.20 379.60)" font-size="13.2" text-anchor="middle" fill="#0a0a0a" stroke="#0a0a0a" stroke-width="0.16">**</text>
<text x="126.20" y="384.40" transform="rotate(0.03 126.20 384.40)" font-size="13.2" text-anchor="middle" fill="#0a0a0a" stroke="#0a0a0a" stroke-width="0.16">**</text>
<text transform="translate(76.20,435.20) rotate(-45)" font-size="10.4" text-anchor="end" fill="#0a0a0a" stroke="#0a0a0a" stroke-width="0.16">nTreg</text>
<text transform="translate(100.10,435.20) rotate(-45)" font-size="10.4" text-anchor="end" fill="#0a0a0a" stroke="#0a0a0a" stroke-width="0.16">Tr1</text>
<text transform="translate(128.00,435.20) rotate(-45)" font-size="10.4" text-anchor="end" fill="#0a0a0a" stroke="#0a0a0a" stroke-width="0.16">Th3</text>
<text transform="translate(11.40,384.50) rotate(-90)" font-size="10.5" text-anchor="middle" fill="#0a0a0a" stroke="#0a0a0a" stroke-width="0.16">% of cells</text>
<text transform="translate(23.30,433.20) rotate(-90)" font-size="10.4" fill="#0a0a0a" stroke="#0a0a0a" stroke-width="0.16">normalized to MSC<tspan font-size="4.7" dy="1.6" fill="#555" stroke="none">untr</tspan></text>
<rect x="225.20" y="397.00" width="16.00" height="29.80" fill="#000"/>
<rect x="251.80" y="395.30" width="15.60" height="31.50" fill="#000"/>
<rect x="278.60" y="374.70" width="16.00" height="52.10" fill="#000"/>
<rect x="305.60" y="365.80" width="16.00" height="61.00" fill="#000"/>
<line x1="214.80" y1="354.20" x2="214.80" y2="427.30" stroke="#555" stroke-width="1.0" stroke-linecap="butt"/>
<line x1="214.30" y1="426.80" x2="331.00" y2="426.80" stroke="#333" stroke-width="1.1" stroke-linecap="butt"/>
<line x1="212.60" y1="354.70" x2="214.80" y2="354.70" stroke="#555" stroke-width="0.9" stroke-linecap="butt"/>
<line x1="212.60" y1="390.70" x2="214.80" y2="390.70" stroke="#555" stroke-width="0.9" stroke-linecap="butt"/>
<line x1="212.60" y1="426.80" x2="214.80" y2="426.80" stroke="#555" stroke-width="0.9" stroke-linecap="butt"/>
<text x="211.10" y="430.20" transform="rotate(0.03 211.10 430.20)" font-size="9.8" text-anchor="end" fill="#0a0a0a" stroke="#0a0a0a" stroke-width="0.16">0</text>
<text x="207.70" y="359.60" font-size="10.1" text-anchor="end" fill="#0a0a0a" stroke="#0a0a0a" stroke-width="0.16">2x10</text>
<text x="207.60" y="355.60" transform="rotate(0.03 207.60 355.60)" font-size="6.4" text-anchor="start" fill="#0a0a0a">4</text>
<text x="207.70" y="395.60" font-size="10.1" text-anchor="end" fill="#0a0a0a" stroke="#0a0a0a" stroke-width="0.16">1x10</text>
<text x="207.60" y="391.60" transform="rotate(0.03 207.60 391.60)" font-size="6.4" text-anchor="start" fill="#0a0a0a">4</text>
<text x="243.40" y="350.80" transform="rotate(0.03 243.40 350.80)" font-size="10.4" text-anchor="middle" fill="#0a0a0a" stroke="#0a0a0a" stroke-width="0.16">HO1lo</text>
<text x="302.20" y="350.80" transform="rotate(0.03 302.20 350.80)" font-size="10.4" text-anchor="middle" fill="#0a0a0a" stroke="#0a0a0a" stroke-width="0.16">HO1hi</text>
<line x1="233.50" y1="357.60" x2="256.00" y2="357.60" stroke="#808080" stroke-width="1.3" stroke-linecap="butt"/>
<line x1="290.20" y1="357.60" x2="312.20" y2="357.60" stroke="#808080" stroke-width="1.3" stroke-linecap="butt"/>
<text transform="translate(178.40,393.00) rotate(-90)" font-size="10.1" text-anchor="middle" fill="#0a0a0a" stroke="#0a0a0a" stroke-width="0.16">HO1 FITC [MFI]</text>
<text transform="translate(241.60,439.00) rotate(-45)" font-size="10.4" text-anchor="end" fill="#0a0a0a" stroke="#0a0a0a" stroke-width="0.16">MSC104</text>
<text transform="translate(262.20,440.20) rotate(-45)" font-size="10.4" text-anchor="end" fill="#0a0a0a" stroke="#0a0a0a" stroke-width="0.16">MSC074</text>
<text transform="translate(289.40,440.20) rotate(-45)" font-size="10.4" text-anchor="end" fill="#0a0a0a" stroke="#0a0a0a" stroke-width="0.16">MSC097</text>
<text transform="translate(316.80,440.00) rotate(-45)" font-size="10.4" text-anchor="end" fill="#0a0a0a" stroke="#0a0a0a" stroke-width="0.16">MSC101</text>
<line x1="389.25" y1="415.60" x2="389.25" y2="419.50" stroke="#0a0a0a" stroke-width="1.15" stroke-linecap="butt"/>
<line x1="383.95" y1="415.60" x2="394.55" y2="415.60" stroke="#0a0a0a" stroke-width="1.5" stroke-linecap="butt"/>
<rect x="381.50" y="419.00" width="15.50" height="7.80" fill="#8a8a8a"/>
<line x1="408.10" y1="415.60" x2="408.10" y2="417.70" stroke="#0a0a0a" stroke-width="1.15" stroke-linecap="butt"/>
<line x1="402.80" y1="415.60" x2="413.40" y2="415.60" stroke="#0a0a0a" stroke-width="1.5" stroke-linecap="butt"/>
<rect x="400.20" y="417.20" width="15.80" height="9.60" fill="#000"/>
<line x1="434.80" y1="415.60" x2="434.80" y2="418.50" stroke="#0a0a0a" stroke-width="1.15" stroke-linecap="butt"/>
<line x1="429.50" y1="415.60" x2="440.10" y2="415.60" stroke="#0a0a0a" stroke-width="1.5" stroke-linecap="butt"/>
<rect x="427.00" y="418.00" width="15.60" height="8.80" fill="#8a8a8a"/>
<line x1="453.55" y1="412.50" x2="453.55" y2="416.50" stroke="#0a0a0a" stroke-width="1.15" stroke-linecap="butt"/>
<line x1="448.25" y1="412.50" x2="458.85" y2="412.50" stroke="#0a0a0a" stroke-width="1.5" stroke-linecap="butt"/>
<rect x="445.60" y="416.00" width="15.90" height="10.80" fill="#000"/>
<line x1="480.35" y1="388.80" x2="480.35" y2="398.50" stroke="#0a0a0a" stroke-width="1.15" stroke-linecap="butt"/>
<line x1="475.05" y1="388.80" x2="485.65" y2="388.80" stroke="#0a0a0a" stroke-width="1.5" stroke-linecap="butt"/>
<rect x="472.40" y="398.00" width="15.90" height="28.80" fill="#8a8a8a"/>
<line x1="499.50" y1="372.00" x2="499.50" y2="382.30" stroke="#0a0a0a" stroke-width="1.15" stroke-linecap="butt"/>
<line x1="494.20" y1="372.00" x2="504.80" y2="372.00" stroke="#0a0a0a" stroke-width="1.5" stroke-linecap="butt"/>
<rect x="491.40" y="381.80" width="16.20" height="45.00" fill="#000"/>
<line x1="371.00" y1="354.40" x2="371.00" y2="427.30" stroke="#6a6a6a" stroke-width="1.4" stroke-linecap="butt"/>
<line x1="370.50" y1="426.80" x2="517.70" y2="426.80" stroke="#333" stroke-width="1.1" stroke-linecap="butt"/>
<line x1="368.80" y1="354.90" x2="371.00" y2="354.90" stroke="#6a6a6a" stroke-width="0.9" stroke-linecap="butt"/>
<text x="367.30" y="358.30" transform="rotate(0.03 367.30 358.30)" font-size="9.8" text-anchor="end" fill="#0a0a0a" stroke="#0a0a0a" stroke-width="0.16">15</text>
<line x1="368.80" y1="378.90" x2="371.00" y2="378.90" stroke="#6a6a6a" stroke-width="0.9" stroke-linecap="butt"/>
<text x="367.30" y="382.30" transform="rotate(0.03 367.30 382.30)" font-size="9.8" text-anchor="end" fill="#0a0a0a" stroke="#0a0a0a" stroke-width="0.16">10</text>
<line x1="368.80" y1="402.90" x2="371.00" y2="402.90" stroke="#6a6a6a" stroke-width="0.9" stroke-linecap="butt"/>
<text x="367.30" y="406.30" transform="rotate(0.03 367.30 406.30)" font-size="9.8" text-anchor="end" fill="#0a0a0a" stroke="#0a0a0a" stroke-width="0.16">5</text>
<line x1="368.80" y1="426.80" x2="371.00" y2="426.80" stroke="#6a6a6a" stroke-width="0.9" stroke-linecap="butt"/>
<text x="367.30" y="430.20" transform="rotate(0.03 367.30 430.20)" font-size="9.8" text-anchor="end" fill="#0a0a0a" stroke="#0a0a0a" stroke-width="0.16">0</text>
<text transform="translate(349.60,387.60) rotate(-90)" font-size="10.3" text-anchor="middle" fill="#0a0a0a" stroke="#0a0a0a" stroke-width="0.16">fold increase</text>
<text x="384.00" y="361.60" transform="rotate(0.03 384.00 361.60)" font-size="10.4" text-anchor="start" fill="#0a0a0a" stroke="#0a0a0a" stroke-width="0.16">HO1lo</text>
<text x="384.00" y="375.40" transform="rotate(0.03 384.00 375.40)" font-size="10.4" text-anchor="start" fill="#0a0a0a" stroke="#0a0a0a" stroke-width="0.16">HO1hi</text>
<rect x="417.90" y="354.90" width="6.00" height="6.00" fill="#8a8a8a"/>
<rect x="417.90" y="368.30" width="6.00" height="6.00" fill="#000"/>
<text transform="translate(404.00,434.80) rotate(-45)" font-size="10.4" text-anchor="end" fill="#0a0a0a" stroke="#0a0a0a" stroke-width="0.16">nTreg</text>
<text transform="translate(449.80,435.30) rotate(-45)" font-size="10.4" text-anchor="end" fill="#0a0a0a" stroke="#0a0a0a" stroke-width="0.16">Tr1</text>
<text transform="translate(494.50,435.30) rotate(-45)" font-size="10.4" text-anchor="end" fill="#0a0a0a" stroke="#0a0a0a" stroke-width="0.16">Th3</text>
</svg>
</body></html>
